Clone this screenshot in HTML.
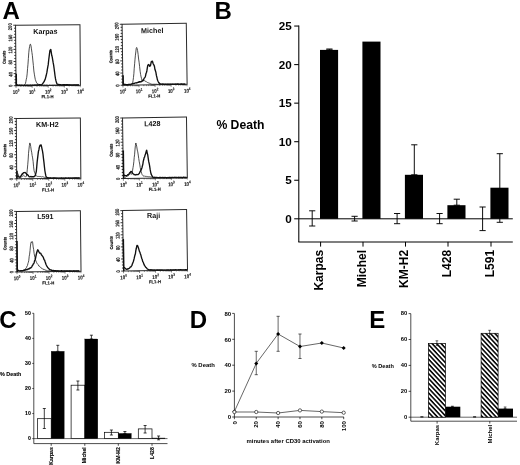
<!DOCTYPE html>
<html><head><meta charset="utf-8"><style>html,body{margin:0;padding:0;background:#fff}svg{display:block;will-change:transform}</style></head><body>
<svg width="520" height="465" viewBox="0 0 520 465" font-family="Liberation Sans, sans-serif">
<rect width="520" height="465" fill="#fff"/>
<text x="2.6" y="18.8" font-size="24" font-weight="bold" fill="#000">A</text>
<text x="214.4" y="19" font-size="24" font-weight="bold" fill="#000">B</text>
<text x="-0.8" y="327.9" font-size="24" font-weight="bold" fill="#000">C</text>
<text x="189.7" y="327.9" font-size="24" font-weight="bold" fill="#000">D</text>
<text x="369.3" y="327.9" font-size="24" font-weight="bold" fill="#000">E</text>
<g transform="rotate(-0.45 48.00 55.20)">
<rect x="15.8" y="24.95" width="64.40" height="60.50" fill="#fff" stroke="#2a2a2a" stroke-width="1.0"/>
<line x1="13.5" y1="85.45" x2="15.8" y2="85.45" stroke="#222" stroke-width="0.9"/>
<line x1="14.3" y1="82.42" x2="15.8" y2="82.42" stroke="#222" stroke-width="0.9"/>
<line x1="14.3" y1="79.40" x2="15.8" y2="79.40" stroke="#222" stroke-width="0.9"/>
<line x1="14.3" y1="76.38" x2="15.8" y2="76.38" stroke="#222" stroke-width="0.9"/>
<line x1="13.5" y1="73.35" x2="15.8" y2="73.35" stroke="#222" stroke-width="0.9"/>
<line x1="14.3" y1="70.33" x2="15.8" y2="70.33" stroke="#222" stroke-width="0.9"/>
<line x1="14.3" y1="67.30" x2="15.8" y2="67.30" stroke="#222" stroke-width="0.9"/>
<line x1="14.3" y1="64.28" x2="15.8" y2="64.28" stroke="#222" stroke-width="0.9"/>
<line x1="13.5" y1="61.25" x2="15.8" y2="61.25" stroke="#222" stroke-width="0.9"/>
<line x1="14.3" y1="58.23" x2="15.8" y2="58.23" stroke="#222" stroke-width="0.9"/>
<line x1="14.3" y1="55.20" x2="15.8" y2="55.20" stroke="#222" stroke-width="0.9"/>
<line x1="14.3" y1="52.18" x2="15.8" y2="52.18" stroke="#222" stroke-width="0.9"/>
<line x1="13.5" y1="49.15" x2="15.8" y2="49.15" stroke="#222" stroke-width="0.9"/>
<line x1="14.3" y1="46.12" x2="15.8" y2="46.12" stroke="#222" stroke-width="0.9"/>
<line x1="14.3" y1="43.10" x2="15.8" y2="43.10" stroke="#222" stroke-width="0.9"/>
<line x1="14.3" y1="40.08" x2="15.8" y2="40.08" stroke="#222" stroke-width="0.9"/>
<line x1="13.5" y1="37.05" x2="15.8" y2="37.05" stroke="#222" stroke-width="0.9"/>
<line x1="14.3" y1="34.03" x2="15.8" y2="34.03" stroke="#222" stroke-width="0.9"/>
<line x1="14.3" y1="31.00" x2="15.8" y2="31.00" stroke="#222" stroke-width="0.9"/>
<line x1="14.3" y1="27.98" x2="15.8" y2="27.98" stroke="#222" stroke-width="0.9"/>
<line x1="13.5" y1="24.95" x2="15.8" y2="24.95" stroke="#222" stroke-width="0.9"/>
<line x1="15.80" y1="85.45" x2="15.80" y2="87.65" stroke="#222" stroke-width="0.55"/>
<line x1="20.65" y1="85.45" x2="20.65" y2="86.65" stroke="#222" stroke-width="0.55"/>
<line x1="23.48" y1="85.45" x2="23.48" y2="86.65" stroke="#222" stroke-width="0.55"/>
<line x1="25.49" y1="85.45" x2="25.49" y2="86.65" stroke="#222" stroke-width="0.55"/>
<line x1="27.05" y1="85.45" x2="27.05" y2="86.65" stroke="#222" stroke-width="0.55"/>
<line x1="28.33" y1="85.45" x2="28.33" y2="86.65" stroke="#222" stroke-width="0.55"/>
<line x1="29.41" y1="85.45" x2="29.41" y2="86.65" stroke="#222" stroke-width="0.55"/>
<line x1="30.34" y1="85.45" x2="30.34" y2="86.65" stroke="#222" stroke-width="0.55"/>
<line x1="31.16" y1="85.45" x2="31.16" y2="86.65" stroke="#222" stroke-width="0.55"/>
<line x1="31.90" y1="85.45" x2="31.90" y2="87.65" stroke="#222" stroke-width="0.55"/>
<line x1="36.75" y1="85.45" x2="36.75" y2="86.65" stroke="#222" stroke-width="0.55"/>
<line x1="39.58" y1="85.45" x2="39.58" y2="86.65" stroke="#222" stroke-width="0.55"/>
<line x1="41.59" y1="85.45" x2="41.59" y2="86.65" stroke="#222" stroke-width="0.55"/>
<line x1="43.15" y1="85.45" x2="43.15" y2="86.65" stroke="#222" stroke-width="0.55"/>
<line x1="44.43" y1="85.45" x2="44.43" y2="86.65" stroke="#222" stroke-width="0.55"/>
<line x1="45.51" y1="85.45" x2="45.51" y2="86.65" stroke="#222" stroke-width="0.55"/>
<line x1="46.44" y1="85.45" x2="46.44" y2="86.65" stroke="#222" stroke-width="0.55"/>
<line x1="47.26" y1="85.45" x2="47.26" y2="86.65" stroke="#222" stroke-width="0.55"/>
<line x1="48.00" y1="85.45" x2="48.00" y2="87.65" stroke="#222" stroke-width="0.55"/>
<line x1="52.85" y1="85.45" x2="52.85" y2="86.65" stroke="#222" stroke-width="0.55"/>
<line x1="55.68" y1="85.45" x2="55.68" y2="86.65" stroke="#222" stroke-width="0.55"/>
<line x1="57.69" y1="85.45" x2="57.69" y2="86.65" stroke="#222" stroke-width="0.55"/>
<line x1="59.25" y1="85.45" x2="59.25" y2="86.65" stroke="#222" stroke-width="0.55"/>
<line x1="60.53" y1="85.45" x2="60.53" y2="86.65" stroke="#222" stroke-width="0.55"/>
<line x1="61.61" y1="85.45" x2="61.61" y2="86.65" stroke="#222" stroke-width="0.55"/>
<line x1="62.54" y1="85.45" x2="62.54" y2="86.65" stroke="#222" stroke-width="0.55"/>
<line x1="63.36" y1="85.45" x2="63.36" y2="86.65" stroke="#222" stroke-width="0.55"/>
<line x1="64.10" y1="85.45" x2="64.10" y2="87.65" stroke="#222" stroke-width="0.55"/>
<line x1="68.95" y1="85.45" x2="68.95" y2="86.65" stroke="#222" stroke-width="0.55"/>
<line x1="71.78" y1="85.45" x2="71.78" y2="86.65" stroke="#222" stroke-width="0.55"/>
<line x1="73.79" y1="85.45" x2="73.79" y2="86.65" stroke="#222" stroke-width="0.55"/>
<line x1="75.35" y1="85.45" x2="75.35" y2="86.65" stroke="#222" stroke-width="0.55"/>
<line x1="76.63" y1="85.45" x2="76.63" y2="86.65" stroke="#222" stroke-width="0.55"/>
<line x1="77.71" y1="85.45" x2="77.71" y2="86.65" stroke="#222" stroke-width="0.55"/>
<line x1="78.64" y1="85.45" x2="78.64" y2="86.65" stroke="#222" stroke-width="0.55"/>
<line x1="79.46" y1="85.45" x2="79.46" y2="86.65" stroke="#222" stroke-width="0.55"/>
<line x1="80.2" y1="85.45" x2="80.2" y2="87.45" stroke="#222" stroke-width="0.4"/>
<text transform="translate(12.30,85.65) rotate(-90) scale(0.78,1)" font-size="5.3" font-weight="bold" text-anchor="middle" fill="#111" stroke="#111" stroke-width="0.1">0</text>
<text transform="translate(12.30,74.05) rotate(-90) scale(0.78,1)" font-size="5.3" font-weight="bold" text-anchor="middle" fill="#111" stroke="#111" stroke-width="0.1">40</text>
<text transform="translate(12.30,61.95) rotate(-90) scale(0.78,1)" font-size="5.3" font-weight="bold" text-anchor="middle" fill="#111" stroke="#111" stroke-width="0.1">80</text>
<text transform="translate(12.30,49.85) rotate(-90) scale(0.78,1)" font-size="5.3" font-weight="bold" text-anchor="middle" fill="#111" stroke="#111" stroke-width="0.1">120</text>
<text transform="translate(12.30,37.75) rotate(-90) scale(0.78,1)" font-size="5.3" font-weight="bold" text-anchor="middle" fill="#111" stroke="#111" stroke-width="0.1">160</text>
<text transform="translate(12.30,26.45) rotate(-90) scale(0.78,1)" font-size="5.3" font-weight="bold" text-anchor="middle" fill="#111" stroke="#111" stroke-width="0.1">200</text>
<text transform="translate(5.60,57.00) rotate(-90) scale(0.9,1)" font-size="4.3" font-weight="bold" text-anchor="middle" fill="#111" stroke="#111" stroke-width="0.2">Counts</text>
<text transform="translate(15.80,93.75) scale(0.8,1)" font-size="5.5" font-weight="bold" text-anchor="middle" fill="#111" stroke="#111" stroke-width="0.1">10<tspan dy="-2.6" font-size="3.8">0</tspan></text>
<text transform="translate(31.90,93.75) scale(0.8,1)" font-size="5.5" font-weight="bold" text-anchor="middle" fill="#111" stroke="#111" stroke-width="0.1">10<tspan dy="-2.6" font-size="3.8">1</tspan></text>
<text transform="translate(48.00,93.75) scale(0.8,1)" font-size="5.5" font-weight="bold" text-anchor="middle" fill="#111" stroke="#111" stroke-width="0.1">10<tspan dy="-2.6" font-size="3.8">2</tspan></text>
<text transform="translate(64.10,93.75) scale(0.8,1)" font-size="5.5" font-weight="bold" text-anchor="middle" fill="#111" stroke="#111" stroke-width="0.1">10<tspan dy="-2.6" font-size="3.8">3</tspan></text>
<text transform="translate(80.20,93.75) scale(0.8,1)" font-size="5.5" font-weight="bold" text-anchor="middle" fill="#111" stroke="#111" stroke-width="0.1">10<tspan dy="-2.6" font-size="3.8">4</tspan></text>
<text transform="translate(47.20,98.25) scale(0.95,1)" font-size="4.5" font-weight="bold" text-anchor="middle" fill="#111" stroke="#111" stroke-width="0.12">FL1-H</text>
<text x="45.60" y="33.90" font-size="7.2" font-weight="bold" text-anchor="middle" fill="#111">Karpas</text>
<path d="M16.20 84.40 L16.65 84.36 L17.10 84.67 L17.55 85.06 L18.00 85.05 L18.45 85.06 L18.90 84.99 L19.35 84.93 L19.80 85.20 L20.25 85.23 L20.70 84.92 L21.15 85.07 L21.60 84.94 L22.05 85.24 L22.50 85.04 L22.95 84.87 L23.40 84.96 L23.85 84.52 L24.30 84.36 L24.75 84.41 L25.20 83.42 L25.65 81.50 L26.10 79.07 L26.55 77.20 L27.00 73.72 L27.45 68.50 L27.90 64.08 L28.35 58.35 L28.80 52.67 L29.25 48.73 L29.70 46.22 L30.15 44.21 L30.60 44.11 L31.05 45.68 L31.50 48.71 L31.95 52.33 L32.40 55.61 L32.85 60.83 L33.30 65.34 L33.75 70.86 L34.20 74.05 L34.65 76.84 L35.10 79.37 L35.55 80.69 L36.00 81.77 L36.45 82.73 L36.90 83.19 L37.35 83.90 L37.80 84.01 L38.25 84.23 L38.70 84.51 L39.15 84.48 L39.60 84.44 L40.05 84.53 L40.50 84.73 L40.95 84.74 L41.40 85.00 L41.85 84.94 L42.30 84.74 L42.75 84.90 L43.20 85.01 L43.65 84.88 L44.10 84.83 L44.55 84.86 L45.00 84.99 L45.45 84.97 L45.90 84.96 L46.35 84.86 L46.80 84.98 L47.25 85.03 L47.70 85.01 L48.15 85.19 L48.60 85.20 L49.05 84.95 L49.50 84.85 L49.95 85.01 L50.40 85.09 L50.85 85.18 L51.30 85.06 L51.75 84.89 L52.20 84.97 L52.65 85.07 L53.10 84.95 L53.55 85.19 L54.00 85.09 L54.45 84.93 L54.90 85.07 L55.35 85.12 L55.80 85.20 L56.25 85.10 L56.70 84.95 L57.15 85.31 L57.60 85.02 L58.05 85.01 L58.50 84.99 L58.95 85.05 L59.40 85.03 L59.85 85.14 L60.30 85.13 L60.75 85.18 L61.20 85.32 L61.65 85.02 L62.10 85.14 L62.55 85.28 L63.00 85.17 L63.45 85.18 L63.90 85.23 L64.35 85.24 L64.80 85.17 L65.25 85.14 L65.70 85.15 L66.15 85.21 L66.60 85.37 L67.05 85.30 L67.50 85.32 L67.95 85.18 L68.40 85.08 L68.85 85.10 L69.30 85.11 L69.75 85.10 L70.20 85.31 L70.65 85.10 L71.10 85.16 L71.55 85.38 L72.00 85.41 L72.45 85.41 L72.90 85.14 L73.35 85.33 L73.80 85.38 L74.25 85.19 L74.70 85.30 L75.15 85.40 L75.60 85.37 L76.05 85.23 L76.50 85.37 L76.95 85.33 L77.40 85.17 L77.85 85.26 L78.30 85.31 L78.75 85.26" fill="none" stroke="#222" stroke-width="0.8" stroke-linejoin="round"/>
<path d="M16.20 84.36 L16.65 84.29 L17.10 84.91 L17.55 84.88 L18.00 85.20 L18.45 85.14 L18.90 84.85 L19.35 85.16 L19.80 84.99 L20.25 85.06 L20.70 85.06 L21.15 85.05 L21.60 85.16 L22.05 84.92 L22.50 85.20 L22.95 85.15 L23.40 85.23 L23.85 85.14 L24.30 85.08 L24.75 84.89 L25.20 85.09 L25.65 85.19 L26.10 85.14 L26.55 84.86 L27.00 85.21 L27.45 85.00 L27.90 85.09 L28.35 84.98 L28.80 85.11 L29.25 84.97 L29.70 85.05 L30.15 84.99 L30.60 84.89 L31.05 85.01 L31.50 85.18 L31.95 85.20 L32.40 84.86 L32.85 85.03 L33.30 85.14 L33.75 84.84 L34.20 84.97 L34.65 84.90 L35.10 84.83 L35.55 85.05 L36.00 85.01 L36.45 84.78 L36.90 85.06 L37.35 84.79 L37.80 85.03 L38.25 84.77 L38.70 84.73 L39.15 84.60 L39.60 84.61 L40.05 84.72 L40.50 84.81 L40.95 84.79 L41.40 84.50 L41.85 84.19 L42.30 83.96 L42.75 83.01 L43.20 82.66 L43.65 81.80 L44.10 81.24 L44.55 80.21 L45.00 79.28 L45.45 77.57 L45.90 76.02 L46.35 74.04 L46.80 72.20 L47.25 69.46 L47.70 66.93 L48.15 64.65 L48.60 60.49 L49.05 57.18 L49.50 53.73 L49.95 50.69 L50.40 49.98 L50.85 49.43 L51.30 52.33 L51.75 55.51 L52.20 56.88 L52.65 59.92 L53.10 62.76 L53.55 65.20 L54.00 68.55 L54.45 72.18 L54.90 76.07 L55.35 78.97 L55.80 81.00 L56.25 82.67 L56.70 83.75 L57.15 84.26 L57.60 84.46 L58.05 84.46 L58.50 84.67 L58.95 84.59 L59.40 84.79 L59.85 84.75 L60.30 84.66 L60.75 85.05 L61.20 85.08 L61.65 85.04 L62.10 84.96 L62.55 84.90 L63.00 84.85 L63.45 85.02 L63.90 84.79 L64.35 85.18 L64.80 84.86 L65.25 85.12 L65.70 84.87 L66.15 85.21 L66.60 84.86 L67.05 84.94 L67.50 84.86 L67.95 85.03 L68.40 85.19 L68.85 84.90 L69.30 85.10 L69.75 85.25 L70.20 85.06 L70.65 85.10 L71.10 85.12 L71.55 85.24 L72.00 85.26 L72.45 85.09 L72.90 85.14 L73.35 85.27 L73.80 85.15 L74.25 85.05 L74.70 85.05 L75.15 85.15 L75.60 85.18 L76.05 85.19 L76.50 85.25 L76.95 85.26 L77.40 85.17 L77.85 85.29 L78.30 85.06 L78.75 85.07" fill="none" stroke="#111" stroke-width="1.35" stroke-linejoin="round"/>
<line x1="16.1" y1="73.45" x2="16.1" y2="85.45" stroke="#111" stroke-width="1.5"/>
</g>
<g transform="rotate(-0.8 154.60 54.30)">
<rect x="122.5" y="23.8" width="64.20" height="61.00" fill="#fff" stroke="#2a2a2a" stroke-width="1.0"/>
<line x1="120.2" y1="84.80" x2="122.5" y2="84.80" stroke="#222" stroke-width="0.9"/>
<line x1="121.0" y1="81.75" x2="122.5" y2="81.75" stroke="#222" stroke-width="0.9"/>
<line x1="121.0" y1="78.70" x2="122.5" y2="78.70" stroke="#222" stroke-width="0.9"/>
<line x1="121.0" y1="75.65" x2="122.5" y2="75.65" stroke="#222" stroke-width="0.9"/>
<line x1="120.2" y1="72.60" x2="122.5" y2="72.60" stroke="#222" stroke-width="0.9"/>
<line x1="121.0" y1="69.55" x2="122.5" y2="69.55" stroke="#222" stroke-width="0.9"/>
<line x1="121.0" y1="66.50" x2="122.5" y2="66.50" stroke="#222" stroke-width="0.9"/>
<line x1="121.0" y1="63.45" x2="122.5" y2="63.45" stroke="#222" stroke-width="0.9"/>
<line x1="120.2" y1="60.40" x2="122.5" y2="60.40" stroke="#222" stroke-width="0.9"/>
<line x1="121.0" y1="57.35" x2="122.5" y2="57.35" stroke="#222" stroke-width="0.9"/>
<line x1="121.0" y1="54.30" x2="122.5" y2="54.30" stroke="#222" stroke-width="0.9"/>
<line x1="121.0" y1="51.25" x2="122.5" y2="51.25" stroke="#222" stroke-width="0.9"/>
<line x1="120.2" y1="48.20" x2="122.5" y2="48.20" stroke="#222" stroke-width="0.9"/>
<line x1="121.0" y1="45.15" x2="122.5" y2="45.15" stroke="#222" stroke-width="0.9"/>
<line x1="121.0" y1="42.10" x2="122.5" y2="42.10" stroke="#222" stroke-width="0.9"/>
<line x1="121.0" y1="39.05" x2="122.5" y2="39.05" stroke="#222" stroke-width="0.9"/>
<line x1="120.2" y1="36.00" x2="122.5" y2="36.00" stroke="#222" stroke-width="0.9"/>
<line x1="121.0" y1="32.95" x2="122.5" y2="32.95" stroke="#222" stroke-width="0.9"/>
<line x1="121.0" y1="29.90" x2="122.5" y2="29.90" stroke="#222" stroke-width="0.9"/>
<line x1="121.0" y1="26.85" x2="122.5" y2="26.85" stroke="#222" stroke-width="0.9"/>
<line x1="120.2" y1="23.80" x2="122.5" y2="23.80" stroke="#222" stroke-width="0.9"/>
<line x1="122.50" y1="84.8" x2="122.50" y2="87.0" stroke="#222" stroke-width="0.55"/>
<line x1="127.33" y1="84.8" x2="127.33" y2="86.0" stroke="#222" stroke-width="0.55"/>
<line x1="130.16" y1="84.8" x2="130.16" y2="86.0" stroke="#222" stroke-width="0.55"/>
<line x1="132.16" y1="84.8" x2="132.16" y2="86.0" stroke="#222" stroke-width="0.55"/>
<line x1="133.72" y1="84.8" x2="133.72" y2="86.0" stroke="#222" stroke-width="0.55"/>
<line x1="134.99" y1="84.8" x2="134.99" y2="86.0" stroke="#222" stroke-width="0.55"/>
<line x1="136.06" y1="84.8" x2="136.06" y2="86.0" stroke="#222" stroke-width="0.55"/>
<line x1="136.99" y1="84.8" x2="136.99" y2="86.0" stroke="#222" stroke-width="0.55"/>
<line x1="137.82" y1="84.8" x2="137.82" y2="86.0" stroke="#222" stroke-width="0.55"/>
<line x1="138.55" y1="84.8" x2="138.55" y2="87.0" stroke="#222" stroke-width="0.55"/>
<line x1="143.38" y1="84.8" x2="143.38" y2="86.0" stroke="#222" stroke-width="0.55"/>
<line x1="146.21" y1="84.8" x2="146.21" y2="86.0" stroke="#222" stroke-width="0.55"/>
<line x1="148.21" y1="84.8" x2="148.21" y2="86.0" stroke="#222" stroke-width="0.55"/>
<line x1="149.77" y1="84.8" x2="149.77" y2="86.0" stroke="#222" stroke-width="0.55"/>
<line x1="151.04" y1="84.8" x2="151.04" y2="86.0" stroke="#222" stroke-width="0.55"/>
<line x1="152.11" y1="84.8" x2="152.11" y2="86.0" stroke="#222" stroke-width="0.55"/>
<line x1="153.04" y1="84.8" x2="153.04" y2="86.0" stroke="#222" stroke-width="0.55"/>
<line x1="153.87" y1="84.8" x2="153.87" y2="86.0" stroke="#222" stroke-width="0.55"/>
<line x1="154.60" y1="84.8" x2="154.60" y2="87.0" stroke="#222" stroke-width="0.55"/>
<line x1="159.43" y1="84.8" x2="159.43" y2="86.0" stroke="#222" stroke-width="0.55"/>
<line x1="162.26" y1="84.8" x2="162.26" y2="86.0" stroke="#222" stroke-width="0.55"/>
<line x1="164.26" y1="84.8" x2="164.26" y2="86.0" stroke="#222" stroke-width="0.55"/>
<line x1="165.82" y1="84.8" x2="165.82" y2="86.0" stroke="#222" stroke-width="0.55"/>
<line x1="167.09" y1="84.8" x2="167.09" y2="86.0" stroke="#222" stroke-width="0.55"/>
<line x1="168.16" y1="84.8" x2="168.16" y2="86.0" stroke="#222" stroke-width="0.55"/>
<line x1="169.09" y1="84.8" x2="169.09" y2="86.0" stroke="#222" stroke-width="0.55"/>
<line x1="169.92" y1="84.8" x2="169.92" y2="86.0" stroke="#222" stroke-width="0.55"/>
<line x1="170.65" y1="84.8" x2="170.65" y2="87.0" stroke="#222" stroke-width="0.55"/>
<line x1="175.48" y1="84.8" x2="175.48" y2="86.0" stroke="#222" stroke-width="0.55"/>
<line x1="178.31" y1="84.8" x2="178.31" y2="86.0" stroke="#222" stroke-width="0.55"/>
<line x1="180.31" y1="84.8" x2="180.31" y2="86.0" stroke="#222" stroke-width="0.55"/>
<line x1="181.87" y1="84.8" x2="181.87" y2="86.0" stroke="#222" stroke-width="0.55"/>
<line x1="183.14" y1="84.8" x2="183.14" y2="86.0" stroke="#222" stroke-width="0.55"/>
<line x1="184.21" y1="84.8" x2="184.21" y2="86.0" stroke="#222" stroke-width="0.55"/>
<line x1="185.14" y1="84.8" x2="185.14" y2="86.0" stroke="#222" stroke-width="0.55"/>
<line x1="185.97" y1="84.8" x2="185.97" y2="86.0" stroke="#222" stroke-width="0.55"/>
<line x1="186.7" y1="84.8" x2="186.7" y2="86.8" stroke="#222" stroke-width="0.4"/>
<text transform="translate(119.00,85.00) rotate(-90) scale(0.78,1)" font-size="5.3" font-weight="bold" text-anchor="middle" fill="#111" stroke="#111" stroke-width="0.1">0</text>
<text transform="translate(119.00,73.30) rotate(-90) scale(0.78,1)" font-size="5.3" font-weight="bold" text-anchor="middle" fill="#111" stroke="#111" stroke-width="0.1">40</text>
<text transform="translate(119.00,61.10) rotate(-90) scale(0.78,1)" font-size="5.3" font-weight="bold" text-anchor="middle" fill="#111" stroke="#111" stroke-width="0.1">80</text>
<text transform="translate(119.00,48.90) rotate(-90) scale(0.78,1)" font-size="5.3" font-weight="bold" text-anchor="middle" fill="#111" stroke="#111" stroke-width="0.1">120</text>
<text transform="translate(119.00,36.70) rotate(-90) scale(0.78,1)" font-size="5.3" font-weight="bold" text-anchor="middle" fill="#111" stroke="#111" stroke-width="0.1">160</text>
<text transform="translate(119.00,25.30) rotate(-90) scale(0.78,1)" font-size="5.3" font-weight="bold" text-anchor="middle" fill="#111" stroke="#111" stroke-width="0.1">200</text>
<text transform="translate(112.30,56.10) rotate(-90) scale(0.9,1)" font-size="4.3" font-weight="bold" text-anchor="middle" fill="#111" stroke="#111" stroke-width="0.2">Counts</text>
<text transform="translate(122.50,93.10) scale(0.8,1)" font-size="5.5" font-weight="bold" text-anchor="middle" fill="#111" stroke="#111" stroke-width="0.1">10<tspan dy="-2.6" font-size="3.8">0</tspan></text>
<text transform="translate(138.55,93.10) scale(0.8,1)" font-size="5.5" font-weight="bold" text-anchor="middle" fill="#111" stroke="#111" stroke-width="0.1">10<tspan dy="-2.6" font-size="3.8">1</tspan></text>
<text transform="translate(154.60,93.10) scale(0.8,1)" font-size="5.5" font-weight="bold" text-anchor="middle" fill="#111" stroke="#111" stroke-width="0.1">10<tspan dy="-2.6" font-size="3.8">2</tspan></text>
<text transform="translate(170.65,93.10) scale(0.8,1)" font-size="5.5" font-weight="bold" text-anchor="middle" fill="#111" stroke="#111" stroke-width="0.1">10<tspan dy="-2.6" font-size="3.8">3</tspan></text>
<text transform="translate(186.70,93.10) scale(0.8,1)" font-size="5.5" font-weight="bold" text-anchor="middle" fill="#111" stroke="#111" stroke-width="0.1">10<tspan dy="-2.6" font-size="3.8">4</tspan></text>
<text transform="translate(153.80,97.60) scale(0.95,1)" font-size="4.5" font-weight="bold" text-anchor="middle" fill="#111" stroke="#111" stroke-width="0.12">FL1-H</text>
<text x="152.50" y="33.00" font-size="7.2" font-weight="bold" text-anchor="middle" fill="#111">Michel</text>
<path d="M122.80 83.59 L123.25 83.69 L123.70 84.16 L124.15 84.21 L124.60 83.97 L125.05 84.06 L125.50 84.13 L125.95 84.31 L126.40 84.22 L126.85 84.23 L127.30 84.26 L127.75 84.43 L128.20 84.32 L128.65 84.32 L129.10 84.17 L129.55 84.03 L130.00 83.99 L130.45 84.09 L130.90 84.04 L131.35 84.01 L131.80 83.99 L132.25 82.91 L132.70 80.15 L133.15 77.22 L133.60 73.45 L134.05 67.91 L134.50 63.48 L134.95 58.92 L135.40 54.92 L135.85 51.68 L136.30 48.24 L136.75 47.22 L137.20 48.28 L137.65 50.40 L138.10 54.06 L138.55 58.80 L139.00 61.98 L139.45 66.44 L139.90 71.00 L140.35 74.40 L140.80 76.75 L141.25 78.50 L141.70 80.04 L142.15 79.93 L142.60 80.03 L143.05 80.66 L143.50 80.28 L143.95 80.38 L144.40 80.73 L144.85 80.95 L145.30 81.30 L145.75 81.35 L146.20 81.87 L146.65 81.94 L147.10 82.46 L147.55 82.42 L148.00 82.65 L148.45 83.08 L148.90 83.21 L149.35 83.21 L149.80 83.47 L150.25 83.73 L150.70 83.99 L151.15 84.07 L151.60 84.02 L152.05 84.30 L152.50 84.03 L152.95 84.30 L153.40 84.06 L153.85 84.31 L154.30 84.07 L154.75 84.18 L155.20 84.27 L155.65 84.28 L156.10 84.24 L156.55 84.27 L157.00 84.39 L157.45 84.45 L157.90 84.34 L158.35 84.18 L158.80 84.31 L159.25 84.54 L159.70 84.26 L160.15 84.30 L160.60 84.24 L161.05 84.53 L161.50 84.32 L161.95 84.59 L162.40 84.38 L162.85 84.53 L163.30 84.55 L163.75 84.31 L164.20 84.61 L164.65 84.46 L165.10 84.34 L165.55 84.58 L166.00 84.60 L166.45 84.35 L166.90 84.53 L167.35 84.43 L167.80 84.69 L168.25 84.57 L168.70 84.64 L169.15 84.46 L169.60 84.69 L170.05 84.37 L170.50 84.72 L170.95 84.46 L171.40 84.73 L171.85 84.64 L172.30 84.44 L172.75 84.69 L173.20 84.68 L173.65 84.49 L174.10 84.61 L174.55 84.74 L175.00 84.39 L175.45 84.70 L175.90 84.75 L176.35 84.64 L176.80 84.54 L177.25 84.49 L177.70 84.73 L178.15 84.65 L178.60 84.76 L179.05 84.61 L179.50 84.49 L179.95 84.50 L180.40 84.45 L180.85 84.50 L181.30 84.46 L181.75 84.52 L182.20 84.61 L182.65 84.70 L183.10 84.54 L183.55 84.66 L184.00 84.74 L184.45 84.62 L184.90 84.46" fill="none" stroke="#222" stroke-width="0.8" stroke-linejoin="round"/>
<path d="M122.80 83.60 L123.25 83.79 L123.70 84.04 L124.15 83.86 L124.60 84.33 L125.05 84.21 L125.50 84.11 L125.95 84.46 L126.40 84.27 L126.85 84.23 L127.30 84.43 L127.75 84.26 L128.20 84.09 L128.65 84.14 L129.10 83.98 L129.55 84.16 L130.00 84.06 L130.45 84.06 L130.90 83.82 L131.35 83.56 L131.80 83.60 L132.25 83.40 L132.70 83.46 L133.15 83.16 L133.60 83.33 L134.05 83.11 L134.50 82.78 L134.95 82.63 L135.40 82.66 L135.85 82.73 L136.30 82.53 L136.75 82.47 L137.20 82.33 L137.65 81.93 L138.10 82.17 L138.55 81.66 L139.00 81.53 L139.45 81.91 L139.90 81.59 L140.35 81.39 L140.80 81.55 L141.25 81.12 L141.70 80.59 L142.15 80.89 L142.60 80.17 L143.05 79.99 L143.50 78.95 L143.95 77.86 L144.40 77.62 L144.85 76.86 L145.30 75.49 L145.75 73.34 L146.20 72.35 L146.65 70.62 L147.10 68.05 L147.55 65.44 L148.00 64.67 L148.45 64.42 L148.90 64.69 L149.35 66.21 L149.80 65.95 L150.25 65.85 L150.70 63.76 L151.15 61.63 L151.60 61.74 L152.05 61.04 L152.50 61.70 L152.95 63.46 L153.40 64.58 L153.85 64.93 L154.30 66.55 L154.75 69.58 L155.20 70.74 L155.65 72.36 L156.10 75.43 L156.55 77.26 L157.00 79.60 L157.45 80.80 L157.90 81.82 L158.35 82.63 L158.80 83.12 L159.25 83.90 L159.70 84.08 L160.15 83.95 L160.60 84.10 L161.05 84.18 L161.50 84.23 L161.95 84.02 L162.40 84.20 L162.85 84.44 L163.30 84.15 L163.75 84.35 L164.20 84.33 L164.65 84.43 L165.10 84.35 L165.55 84.40 L166.00 84.50 L166.45 84.30 L166.90 84.51 L167.35 84.25 L167.80 84.55 L168.25 84.27 L168.70 84.26 L169.15 84.39 L169.60 84.31 L170.05 84.49 L170.50 84.31 L170.95 84.43 L171.40 84.51 L171.85 84.24 L172.30 84.46 L172.75 84.47 L173.20 84.29 L173.65 84.48 L174.10 84.37 L174.55 84.57 L175.00 84.32 L175.45 84.54 L175.90 84.62 L176.35 84.28 L176.80 84.59 L177.25 84.30 L177.70 84.28 L178.15 84.43 L178.60 84.66 L179.05 84.64 L179.50 84.59 L179.95 84.52 L180.40 84.44 L180.85 84.31 L181.30 84.54 L181.75 84.62 L182.20 84.47 L182.65 84.63 L183.10 84.65 L183.55 84.47 L184.00 84.42 L184.45 84.66 L184.90 84.51" fill="none" stroke="#111" stroke-width="1.35" stroke-linejoin="round"/>
<line x1="122.8" y1="74.8" x2="122.8" y2="84.8" stroke="#111" stroke-width="1.5"/>
</g>
<g transform="rotate(-0.45 48.55 148.40)">
<rect x="16.5" y="118.2" width="64.10" height="60.40" fill="#fff" stroke="#2a2a2a" stroke-width="1.0"/>
<line x1="14.2" y1="178.60" x2="16.5" y2="178.60" stroke="#222" stroke-width="0.9"/>
<line x1="15.0" y1="175.58" x2="16.5" y2="175.58" stroke="#222" stroke-width="0.9"/>
<line x1="15.0" y1="172.56" x2="16.5" y2="172.56" stroke="#222" stroke-width="0.9"/>
<line x1="15.0" y1="169.54" x2="16.5" y2="169.54" stroke="#222" stroke-width="0.9"/>
<line x1="14.2" y1="166.52" x2="16.5" y2="166.52" stroke="#222" stroke-width="0.9"/>
<line x1="15.0" y1="163.50" x2="16.5" y2="163.50" stroke="#222" stroke-width="0.9"/>
<line x1="15.0" y1="160.48" x2="16.5" y2="160.48" stroke="#222" stroke-width="0.9"/>
<line x1="15.0" y1="157.46" x2="16.5" y2="157.46" stroke="#222" stroke-width="0.9"/>
<line x1="14.2" y1="154.44" x2="16.5" y2="154.44" stroke="#222" stroke-width="0.9"/>
<line x1="15.0" y1="151.42" x2="16.5" y2="151.42" stroke="#222" stroke-width="0.9"/>
<line x1="15.0" y1="148.40" x2="16.5" y2="148.40" stroke="#222" stroke-width="0.9"/>
<line x1="15.0" y1="145.38" x2="16.5" y2="145.38" stroke="#222" stroke-width="0.9"/>
<line x1="14.2" y1="142.36" x2="16.5" y2="142.36" stroke="#222" stroke-width="0.9"/>
<line x1="15.0" y1="139.34" x2="16.5" y2="139.34" stroke="#222" stroke-width="0.9"/>
<line x1="15.0" y1="136.32" x2="16.5" y2="136.32" stroke="#222" stroke-width="0.9"/>
<line x1="15.0" y1="133.30" x2="16.5" y2="133.30" stroke="#222" stroke-width="0.9"/>
<line x1="14.2" y1="130.28" x2="16.5" y2="130.28" stroke="#222" stroke-width="0.9"/>
<line x1="15.0" y1="127.26" x2="16.5" y2="127.26" stroke="#222" stroke-width="0.9"/>
<line x1="15.0" y1="124.24" x2="16.5" y2="124.24" stroke="#222" stroke-width="0.9"/>
<line x1="15.0" y1="121.22" x2="16.5" y2="121.22" stroke="#222" stroke-width="0.9"/>
<line x1="14.2" y1="118.20" x2="16.5" y2="118.20" stroke="#222" stroke-width="0.9"/>
<line x1="16.50" y1="178.6" x2="16.50" y2="180.79999999999998" stroke="#222" stroke-width="0.55"/>
<line x1="21.32" y1="178.6" x2="21.32" y2="179.79999999999998" stroke="#222" stroke-width="0.55"/>
<line x1="24.15" y1="178.6" x2="24.15" y2="179.79999999999998" stroke="#222" stroke-width="0.55"/>
<line x1="26.15" y1="178.6" x2="26.15" y2="179.79999999999998" stroke="#222" stroke-width="0.55"/>
<line x1="27.70" y1="178.6" x2="27.70" y2="179.79999999999998" stroke="#222" stroke-width="0.55"/>
<line x1="28.97" y1="178.6" x2="28.97" y2="179.79999999999998" stroke="#222" stroke-width="0.55"/>
<line x1="30.04" y1="178.6" x2="30.04" y2="179.79999999999998" stroke="#222" stroke-width="0.55"/>
<line x1="30.97" y1="178.6" x2="30.97" y2="179.79999999999998" stroke="#222" stroke-width="0.55"/>
<line x1="31.79" y1="178.6" x2="31.79" y2="179.79999999999998" stroke="#222" stroke-width="0.55"/>
<line x1="32.52" y1="178.6" x2="32.52" y2="180.79999999999998" stroke="#222" stroke-width="0.55"/>
<line x1="37.35" y1="178.6" x2="37.35" y2="179.79999999999998" stroke="#222" stroke-width="0.55"/>
<line x1="40.17" y1="178.6" x2="40.17" y2="179.79999999999998" stroke="#222" stroke-width="0.55"/>
<line x1="42.17" y1="178.6" x2="42.17" y2="179.79999999999998" stroke="#222" stroke-width="0.55"/>
<line x1="43.73" y1="178.6" x2="43.73" y2="179.79999999999998" stroke="#222" stroke-width="0.55"/>
<line x1="44.99" y1="178.6" x2="44.99" y2="179.79999999999998" stroke="#222" stroke-width="0.55"/>
<line x1="46.07" y1="178.6" x2="46.07" y2="179.79999999999998" stroke="#222" stroke-width="0.55"/>
<line x1="47.00" y1="178.6" x2="47.00" y2="179.79999999999998" stroke="#222" stroke-width="0.55"/>
<line x1="47.82" y1="178.6" x2="47.82" y2="179.79999999999998" stroke="#222" stroke-width="0.55"/>
<line x1="48.55" y1="178.6" x2="48.55" y2="180.79999999999998" stroke="#222" stroke-width="0.55"/>
<line x1="53.37" y1="178.6" x2="53.37" y2="179.79999999999998" stroke="#222" stroke-width="0.55"/>
<line x1="56.20" y1="178.6" x2="56.20" y2="179.79999999999998" stroke="#222" stroke-width="0.55"/>
<line x1="58.20" y1="178.6" x2="58.20" y2="179.79999999999998" stroke="#222" stroke-width="0.55"/>
<line x1="59.75" y1="178.6" x2="59.75" y2="179.79999999999998" stroke="#222" stroke-width="0.55"/>
<line x1="61.02" y1="178.6" x2="61.02" y2="179.79999999999998" stroke="#222" stroke-width="0.55"/>
<line x1="62.09" y1="178.6" x2="62.09" y2="179.79999999999998" stroke="#222" stroke-width="0.55"/>
<line x1="63.02" y1="178.6" x2="63.02" y2="179.79999999999998" stroke="#222" stroke-width="0.55"/>
<line x1="63.84" y1="178.6" x2="63.84" y2="179.79999999999998" stroke="#222" stroke-width="0.55"/>
<line x1="64.57" y1="178.6" x2="64.57" y2="180.79999999999998" stroke="#222" stroke-width="0.55"/>
<line x1="69.40" y1="178.6" x2="69.40" y2="179.79999999999998" stroke="#222" stroke-width="0.55"/>
<line x1="72.22" y1="178.6" x2="72.22" y2="179.79999999999998" stroke="#222" stroke-width="0.55"/>
<line x1="74.22" y1="178.6" x2="74.22" y2="179.79999999999998" stroke="#222" stroke-width="0.55"/>
<line x1="75.78" y1="178.6" x2="75.78" y2="179.79999999999998" stroke="#222" stroke-width="0.55"/>
<line x1="77.04" y1="178.6" x2="77.04" y2="179.79999999999998" stroke="#222" stroke-width="0.55"/>
<line x1="78.12" y1="178.6" x2="78.12" y2="179.79999999999998" stroke="#222" stroke-width="0.55"/>
<line x1="79.05" y1="178.6" x2="79.05" y2="179.79999999999998" stroke="#222" stroke-width="0.55"/>
<line x1="79.87" y1="178.6" x2="79.87" y2="179.79999999999998" stroke="#222" stroke-width="0.55"/>
<line x1="80.6" y1="178.6" x2="80.6" y2="180.6" stroke="#222" stroke-width="0.4"/>
<text transform="translate(13.00,178.80) rotate(-90) scale(0.78,1)" font-size="5.3" font-weight="bold" text-anchor="middle" fill="#111" stroke="#111" stroke-width="0.1">0</text>
<text transform="translate(13.00,167.22) rotate(-90) scale(0.78,1)" font-size="5.3" font-weight="bold" text-anchor="middle" fill="#111" stroke="#111" stroke-width="0.1">40</text>
<text transform="translate(13.00,155.14) rotate(-90) scale(0.78,1)" font-size="5.3" font-weight="bold" text-anchor="middle" fill="#111" stroke="#111" stroke-width="0.1">80</text>
<text transform="translate(13.00,143.06) rotate(-90) scale(0.78,1)" font-size="5.3" font-weight="bold" text-anchor="middle" fill="#111" stroke="#111" stroke-width="0.1">120</text>
<text transform="translate(13.00,130.98) rotate(-90) scale(0.78,1)" font-size="5.3" font-weight="bold" text-anchor="middle" fill="#111" stroke="#111" stroke-width="0.1">160</text>
<text transform="translate(13.00,119.70) rotate(-90) scale(0.78,1)" font-size="5.3" font-weight="bold" text-anchor="middle" fill="#111" stroke="#111" stroke-width="0.1">200</text>
<text transform="translate(6.30,150.20) rotate(-90) scale(0.9,1)" font-size="4.3" font-weight="bold" text-anchor="middle" fill="#111" stroke="#111" stroke-width="0.2">Counts</text>
<text transform="translate(16.50,186.90) scale(0.8,1)" font-size="5.5" font-weight="bold" text-anchor="middle" fill="#111" stroke="#111" stroke-width="0.1">10<tspan dy="-2.6" font-size="3.8">0</tspan></text>
<text transform="translate(32.52,186.90) scale(0.8,1)" font-size="5.5" font-weight="bold" text-anchor="middle" fill="#111" stroke="#111" stroke-width="0.1">10<tspan dy="-2.6" font-size="3.8">1</tspan></text>
<text transform="translate(48.55,186.90) scale(0.8,1)" font-size="5.5" font-weight="bold" text-anchor="middle" fill="#111" stroke="#111" stroke-width="0.1">10<tspan dy="-2.6" font-size="3.8">2</tspan></text>
<text transform="translate(64.57,186.90) scale(0.8,1)" font-size="5.5" font-weight="bold" text-anchor="middle" fill="#111" stroke="#111" stroke-width="0.1">10<tspan dy="-2.6" font-size="3.8">3</tspan></text>
<text transform="translate(80.60,186.90) scale(0.8,1)" font-size="5.5" font-weight="bold" text-anchor="middle" fill="#111" stroke="#111" stroke-width="0.1">10<tspan dy="-2.6" font-size="3.8">4</tspan></text>
<text transform="translate(47.75,191.40) scale(0.95,1)" font-size="4.5" font-weight="bold" text-anchor="middle" fill="#111" stroke="#111" stroke-width="0.12">FL1-H</text>
<text x="47.50" y="127.00" font-size="7.2" font-weight="bold" text-anchor="middle" fill="#111">KM-H2</text>
<path d="M16.80 172.33 L17.25 172.67 L17.70 173.59 L18.15 174.56 L18.60 175.81 L19.05 177.10 L19.50 177.52 L19.95 177.11 L20.40 177.28 L20.85 177.17 L21.30 176.61 L21.75 176.49 L22.20 175.83 L22.65 175.63 L23.10 175.32 L23.55 175.73 L24.00 175.82 L24.45 176.13 L24.90 176.58 L25.35 176.43 L25.80 176.29 L26.25 176.13 L26.70 172.84 L27.15 169.07 L27.60 164.63 L28.05 159.81 L28.50 153.15 L28.95 149.02 L29.40 145.31 L29.85 142.78 L30.30 143.63 L30.75 146.34 L31.20 149.92 L31.65 152.08 L32.10 155.39 L32.55 157.76 L33.00 161.20 L33.45 166.73 L33.90 170.46 L34.35 172.31 L34.80 173.29 L35.25 174.87 L35.70 175.44 L36.15 175.93 L36.60 176.02 L37.05 176.24 L37.50 176.38 L37.95 176.35 L38.40 176.42 L38.85 176.32 L39.30 176.49 L39.75 176.41 L40.20 176.49 L40.65 176.46 L41.10 176.65 L41.55 176.94 L42.00 176.64 L42.45 176.63 L42.90 176.71 L43.35 176.94 L43.80 176.96 L44.25 177.32 L44.70 177.20 L45.15 177.49 L45.60 177.78 L46.05 178.01 L46.50 177.80 L46.95 177.80 L47.40 178.18 L47.85 177.91 L48.30 178.07 L48.75 178.19 L49.20 178.15 L49.65 177.97 L50.10 177.94 L50.55 178.28 L51.00 178.07 L51.45 178.30 L51.90 178.05 L52.35 178.21 L52.80 178.01 L53.25 177.98 L53.70 178.17 L54.15 177.99 L54.60 178.27 L55.05 178.36 L55.50 178.17 L55.95 178.40 L56.40 178.34 L56.85 178.27 L57.30 178.20 L57.75 178.38 L58.20 178.43 L58.65 178.13 L59.10 178.34 L59.55 178.11 L60.00 178.14 L60.45 178.34 L60.90 178.31 L61.35 178.30 L61.80 178.26 L62.25 178.28 L62.70 178.30 L63.15 178.28 L63.60 178.17 L64.05 178.33 L64.50 178.36 L64.95 178.26 L65.40 178.44 L65.85 178.42 L66.30 178.18 L66.75 178.35 L67.20 178.34 L67.65 178.54 L68.10 178.40 L68.55 178.34 L69.00 178.55 L69.45 178.33 L69.90 178.33 L70.35 178.54 L70.80 178.33 L71.25 178.40 L71.70 178.32 L72.15 178.44 L72.60 178.31 L73.05 178.30 L73.50 178.57 L73.95 178.55 L74.40 178.33 L74.85 178.23 L75.30 178.49 L75.75 178.41 L76.20 178.36 L76.65 178.46 L77.10 178.45 L77.55 178.47 L78.00 178.45 L78.45 178.36 L78.90 178.47 L79.35 178.45" fill="none" stroke="#222" stroke-width="0.8" stroke-linejoin="round"/>
<path d="M16.80 175.56 L17.25 175.85 L17.70 176.00 L18.15 176.51 L18.60 176.57 L19.05 176.82 L19.50 176.85 L19.95 176.77 L20.40 176.07 L20.85 175.56 L21.30 174.98 L21.75 173.93 L22.20 173.45 L22.65 173.73 L23.10 172.63 L23.55 172.46 L24.00 172.39 L24.45 172.39 L24.90 172.23 L25.35 172.80 L25.80 173.11 L26.25 173.64 L26.70 174.45 L27.15 174.47 L27.60 174.85 L28.05 175.36 L28.50 175.98 L28.95 176.57 L29.40 176.70 L29.85 176.70 L30.30 176.33 L30.75 176.70 L31.20 176.67 L31.65 176.39 L32.10 176.70 L32.55 176.57 L33.00 176.63 L33.45 176.78 L33.90 176.36 L34.35 176.00 L34.80 175.94 L35.25 174.79 L35.70 173.00 L36.15 171.20 L36.60 166.66 L37.05 161.78 L37.50 158.32 L37.95 154.87 L38.40 151.26 L38.85 149.86 L39.30 147.33 L39.75 146.02 L40.20 145.06 L40.65 145.72 L41.10 144.83 L41.55 146.47 L42.00 148.79 L42.45 150.88 L42.90 153.74 L43.35 158.07 L43.80 161.92 L44.25 166.47 L44.70 170.72 L45.15 173.30 L45.60 175.68 L46.05 176.93 L46.50 177.21 L46.95 177.68 L47.40 177.71 L47.85 177.76 L48.30 177.80 L48.75 177.93 L49.20 178.00 L49.65 177.98 L50.10 178.17 L50.55 177.90 L51.00 178.06 L51.45 178.08 L51.90 178.19 L52.35 178.05 L52.80 178.01 L53.25 178.10 L53.70 177.92 L54.15 178.01 L54.60 178.19 L55.05 178.09 L55.50 177.95 L55.95 178.11 L56.40 178.09 L56.85 178.30 L57.30 178.15 L57.75 178.17 L58.20 178.20 L58.65 178.20 L59.10 178.14 L59.55 178.17 L60.00 178.19 L60.45 178.32 L60.90 178.22 L61.35 178.03 L61.80 178.24 L62.25 178.40 L62.70 178.41 L63.15 178.22 L63.60 178.40 L64.05 178.39 L64.50 178.39 L64.95 178.26 L65.40 178.06 L65.85 178.26 L66.30 178.27 L66.75 178.29 L67.20 178.26 L67.65 178.29 L68.10 178.19 L68.55 178.12 L69.00 178.20 L69.45 178.31 L69.90 178.22 L70.35 178.13 L70.80 178.42 L71.25 178.39 L71.70 178.24 L72.15 178.22 L72.60 178.24 L73.05 178.26 L73.50 178.17 L73.95 178.30 L74.40 178.18 L74.85 178.12 L75.30 178.32 L75.75 178.16 L76.20 178.22 L76.65 178.15 L77.10 178.47 L77.55 178.14 L78.00 178.20 L78.45 178.13 L78.90 178.12 L79.35 178.38" fill="none" stroke="#111" stroke-width="1.35" stroke-linejoin="round"/>
<line x1="16.8" y1="170.6" x2="16.8" y2="178.6" stroke="#111" stroke-width="1.5"/>
</g>
<g transform="rotate(-0.8 154.93 147.82)">
<rect x="122.95" y="117.55" width="63.95" height="60.55" fill="#fff" stroke="#2a2a2a" stroke-width="1.0"/>
<line x1="120.65" y1="178.10" x2="122.95" y2="178.10" stroke="#222" stroke-width="0.9"/>
<line x1="121.45" y1="175.07" x2="122.95" y2="175.07" stroke="#222" stroke-width="0.9"/>
<line x1="121.45" y1="172.04" x2="122.95" y2="172.04" stroke="#222" stroke-width="0.9"/>
<line x1="121.45" y1="169.02" x2="122.95" y2="169.02" stroke="#222" stroke-width="0.9"/>
<line x1="120.65" y1="165.99" x2="122.95" y2="165.99" stroke="#222" stroke-width="0.9"/>
<line x1="121.45" y1="162.96" x2="122.95" y2="162.96" stroke="#222" stroke-width="0.9"/>
<line x1="121.45" y1="159.94" x2="122.95" y2="159.94" stroke="#222" stroke-width="0.9"/>
<line x1="121.45" y1="156.91" x2="122.95" y2="156.91" stroke="#222" stroke-width="0.9"/>
<line x1="120.65" y1="153.88" x2="122.95" y2="153.88" stroke="#222" stroke-width="0.9"/>
<line x1="121.45" y1="150.85" x2="122.95" y2="150.85" stroke="#222" stroke-width="0.9"/>
<line x1="121.45" y1="147.82" x2="122.95" y2="147.82" stroke="#222" stroke-width="0.9"/>
<line x1="121.45" y1="144.80" x2="122.95" y2="144.80" stroke="#222" stroke-width="0.9"/>
<line x1="120.65" y1="141.77" x2="122.95" y2="141.77" stroke="#222" stroke-width="0.9"/>
<line x1="121.45" y1="138.74" x2="122.95" y2="138.74" stroke="#222" stroke-width="0.9"/>
<line x1="121.45" y1="135.72" x2="122.95" y2="135.72" stroke="#222" stroke-width="0.9"/>
<line x1="121.45" y1="132.69" x2="122.95" y2="132.69" stroke="#222" stroke-width="0.9"/>
<line x1="120.65" y1="129.66" x2="122.95" y2="129.66" stroke="#222" stroke-width="0.9"/>
<line x1="121.45" y1="126.63" x2="122.95" y2="126.63" stroke="#222" stroke-width="0.9"/>
<line x1="121.45" y1="123.61" x2="122.95" y2="123.61" stroke="#222" stroke-width="0.9"/>
<line x1="121.45" y1="120.58" x2="122.95" y2="120.58" stroke="#222" stroke-width="0.9"/>
<line x1="120.65" y1="117.55" x2="122.95" y2="117.55" stroke="#222" stroke-width="0.9"/>
<line x1="122.95" y1="178.1" x2="122.95" y2="180.29999999999998" stroke="#222" stroke-width="0.55"/>
<line x1="127.76" y1="178.1" x2="127.76" y2="179.29999999999998" stroke="#222" stroke-width="0.55"/>
<line x1="130.58" y1="178.1" x2="130.58" y2="179.29999999999998" stroke="#222" stroke-width="0.55"/>
<line x1="132.58" y1="178.1" x2="132.58" y2="179.29999999999998" stroke="#222" stroke-width="0.55"/>
<line x1="134.12" y1="178.1" x2="134.12" y2="179.29999999999998" stroke="#222" stroke-width="0.55"/>
<line x1="135.39" y1="178.1" x2="135.39" y2="179.29999999999998" stroke="#222" stroke-width="0.55"/>
<line x1="136.46" y1="178.1" x2="136.46" y2="179.29999999999998" stroke="#222" stroke-width="0.55"/>
<line x1="137.39" y1="178.1" x2="137.39" y2="179.29999999999998" stroke="#222" stroke-width="0.55"/>
<line x1="138.21" y1="178.1" x2="138.21" y2="179.29999999999998" stroke="#222" stroke-width="0.55"/>
<line x1="138.94" y1="178.1" x2="138.94" y2="180.29999999999998" stroke="#222" stroke-width="0.55"/>
<line x1="143.75" y1="178.1" x2="143.75" y2="179.29999999999998" stroke="#222" stroke-width="0.55"/>
<line x1="146.57" y1="178.1" x2="146.57" y2="179.29999999999998" stroke="#222" stroke-width="0.55"/>
<line x1="148.56" y1="178.1" x2="148.56" y2="179.29999999999998" stroke="#222" stroke-width="0.55"/>
<line x1="150.11" y1="178.1" x2="150.11" y2="179.29999999999998" stroke="#222" stroke-width="0.55"/>
<line x1="151.38" y1="178.1" x2="151.38" y2="179.29999999999998" stroke="#222" stroke-width="0.55"/>
<line x1="152.45" y1="178.1" x2="152.45" y2="179.29999999999998" stroke="#222" stroke-width="0.55"/>
<line x1="153.38" y1="178.1" x2="153.38" y2="179.29999999999998" stroke="#222" stroke-width="0.55"/>
<line x1="154.19" y1="178.1" x2="154.19" y2="179.29999999999998" stroke="#222" stroke-width="0.55"/>
<line x1="154.93" y1="178.1" x2="154.93" y2="180.29999999999998" stroke="#222" stroke-width="0.55"/>
<line x1="159.74" y1="178.1" x2="159.74" y2="179.29999999999998" stroke="#222" stroke-width="0.55"/>
<line x1="162.55" y1="178.1" x2="162.55" y2="179.29999999999998" stroke="#222" stroke-width="0.55"/>
<line x1="164.55" y1="178.1" x2="164.55" y2="179.29999999999998" stroke="#222" stroke-width="0.55"/>
<line x1="166.10" y1="178.1" x2="166.10" y2="179.29999999999998" stroke="#222" stroke-width="0.55"/>
<line x1="167.37" y1="178.1" x2="167.37" y2="179.29999999999998" stroke="#222" stroke-width="0.55"/>
<line x1="168.44" y1="178.1" x2="168.44" y2="179.29999999999998" stroke="#222" stroke-width="0.55"/>
<line x1="169.36" y1="178.1" x2="169.36" y2="179.29999999999998" stroke="#222" stroke-width="0.55"/>
<line x1="170.18" y1="178.1" x2="170.18" y2="179.29999999999998" stroke="#222" stroke-width="0.55"/>
<line x1="170.91" y1="178.1" x2="170.91" y2="180.29999999999998" stroke="#222" stroke-width="0.55"/>
<line x1="175.73" y1="178.1" x2="175.73" y2="179.29999999999998" stroke="#222" stroke-width="0.55"/>
<line x1="178.54" y1="178.1" x2="178.54" y2="179.29999999999998" stroke="#222" stroke-width="0.55"/>
<line x1="180.54" y1="178.1" x2="180.54" y2="179.29999999999998" stroke="#222" stroke-width="0.55"/>
<line x1="182.09" y1="178.1" x2="182.09" y2="179.29999999999998" stroke="#222" stroke-width="0.55"/>
<line x1="183.35" y1="178.1" x2="183.35" y2="179.29999999999998" stroke="#222" stroke-width="0.55"/>
<line x1="184.42" y1="178.1" x2="184.42" y2="179.29999999999998" stroke="#222" stroke-width="0.55"/>
<line x1="185.35" y1="178.1" x2="185.35" y2="179.29999999999998" stroke="#222" stroke-width="0.55"/>
<line x1="186.17" y1="178.1" x2="186.17" y2="179.29999999999998" stroke="#222" stroke-width="0.55"/>
<line x1="186.9" y1="178.1" x2="186.9" y2="180.1" stroke="#222" stroke-width="0.4"/>
<text transform="translate(119.45,178.30) rotate(-90) scale(0.78,1)" font-size="5.3" font-weight="bold" text-anchor="middle" fill="#111" stroke="#111" stroke-width="0.1">0</text>
<text transform="translate(119.45,166.69) rotate(-90) scale(0.78,1)" font-size="5.3" font-weight="bold" text-anchor="middle" fill="#111" stroke="#111" stroke-width="0.1">40</text>
<text transform="translate(119.45,154.58) rotate(-90) scale(0.78,1)" font-size="5.3" font-weight="bold" text-anchor="middle" fill="#111" stroke="#111" stroke-width="0.1">80</text>
<text transform="translate(119.45,142.47) rotate(-90) scale(0.78,1)" font-size="5.3" font-weight="bold" text-anchor="middle" fill="#111" stroke="#111" stroke-width="0.1">120</text>
<text transform="translate(119.45,130.36) rotate(-90) scale(0.78,1)" font-size="5.3" font-weight="bold" text-anchor="middle" fill="#111" stroke="#111" stroke-width="0.1">160</text>
<text transform="translate(119.45,119.05) rotate(-90) scale(0.78,1)" font-size="5.3" font-weight="bold" text-anchor="middle" fill="#111" stroke="#111" stroke-width="0.1">200</text>
<text transform="translate(112.75,149.62) rotate(-90) scale(0.9,1)" font-size="4.3" font-weight="bold" text-anchor="middle" fill="#111" stroke="#111" stroke-width="0.2">Counts</text>
<text transform="translate(122.95,186.40) scale(0.8,1)" font-size="5.5" font-weight="bold" text-anchor="middle" fill="#111" stroke="#111" stroke-width="0.1">10<tspan dy="-2.6" font-size="3.8">0</tspan></text>
<text transform="translate(138.94,186.40) scale(0.8,1)" font-size="5.5" font-weight="bold" text-anchor="middle" fill="#111" stroke="#111" stroke-width="0.1">10<tspan dy="-2.6" font-size="3.8">1</tspan></text>
<text transform="translate(154.93,186.40) scale(0.8,1)" font-size="5.5" font-weight="bold" text-anchor="middle" fill="#111" stroke="#111" stroke-width="0.1">10<tspan dy="-2.6" font-size="3.8">2</tspan></text>
<text transform="translate(170.91,186.40) scale(0.8,1)" font-size="5.5" font-weight="bold" text-anchor="middle" fill="#111" stroke="#111" stroke-width="0.1">10<tspan dy="-2.6" font-size="3.8">3</tspan></text>
<text transform="translate(186.90,186.40) scale(0.8,1)" font-size="5.5" font-weight="bold" text-anchor="middle" fill="#111" stroke="#111" stroke-width="0.1">10<tspan dy="-2.6" font-size="3.8">4</tspan></text>
<text transform="translate(154.12,190.90) scale(0.95,1)" font-size="4.5" font-weight="bold" text-anchor="middle" fill="#111" stroke="#111" stroke-width="0.12">FL1-H</text>
<text x="152.70" y="126.10" font-size="7.2" font-weight="bold" text-anchor="middle" fill="#111">L428</text>
<path d="M123.30 176.20 L123.75 176.49 L124.20 176.51 L124.65 176.72 L125.10 176.78 L125.55 176.56 L126.00 176.16 L126.45 176.01 L126.90 175.78 L127.35 175.81 L127.80 175.35 L128.25 175.19 L128.70 174.76 L129.15 174.28 L129.60 173.82 L130.05 173.24 L130.50 173.61 L130.95 173.96 L131.40 173.78 L131.85 172.40 L132.30 169.85 L132.75 167.34 L133.20 164.81 L133.65 161.43 L134.10 157.11 L134.55 153.90 L135.00 148.85 L135.45 145.23 L135.90 142.73 L136.35 144.18 L136.80 146.61 L137.25 149.81 L137.70 151.63 L138.15 154.81 L138.60 158.30 L139.05 161.54 L139.50 163.84 L139.95 167.41 L140.40 169.77 L140.85 171.64 L141.30 173.20 L141.75 174.34 L142.20 175.03 L142.65 175.57 L143.10 175.90 L143.55 175.95 L144.00 175.79 L144.45 176.28 L144.90 176.35 L145.35 176.12 L145.80 176.35 L146.25 176.29 L146.70 176.37 L147.15 176.48 L147.60 176.20 L148.05 176.63 L148.50 176.56 L148.95 176.71 L149.40 176.56 L149.85 176.79 L150.30 176.86 L150.75 176.83 L151.20 177.19 L151.65 177.26 L152.10 177.27 L152.55 177.70 L153.00 177.76 L153.45 177.71 L153.90 177.51 L154.35 177.58 L154.80 177.73 L155.25 177.71 L155.70 177.78 L156.15 177.68 L156.60 177.85 L157.05 177.60 L157.50 177.53 L157.95 177.52 L158.40 177.61 L158.85 177.54 L159.30 177.90 L159.75 177.81 L160.20 177.56 L160.65 177.64 L161.10 177.78 L161.55 177.59 L162.00 177.71 L162.45 177.65 L162.90 177.85 L163.35 177.89 L163.80 177.81 L164.25 177.93 L164.70 177.84 L165.15 177.63 L165.60 177.87 L166.05 177.99 L166.50 177.98 L166.95 177.94 L167.40 177.72 L167.85 177.88 L168.30 177.91 L168.75 177.99 L169.20 177.66 L169.65 177.87 L170.10 177.95 L170.55 178.01 L171.00 178.02 L171.45 177.98 L171.90 177.79 L172.35 177.99 L172.80 178.03 L173.25 177.87 L173.70 177.96 L174.15 177.69 L174.60 178.01 L175.05 177.86 L175.50 177.78 L175.95 177.91 L176.40 177.70 L176.85 177.89 L177.30 177.98 L177.75 177.92 L178.20 178.06 L178.65 177.92 L179.10 177.98 L179.55 177.75 L180.00 177.77 L180.45 177.89 L180.90 178.06 L181.35 177.98 L181.80 177.99 L182.25 178.00 L182.70 177.99 L183.15 177.76 L183.60 178.03 L184.05 178.06 L184.50 177.74 L184.95 177.87 L185.40 177.72 L185.85 177.93 L186.30 177.75" fill="none" stroke="#222" stroke-width="0.8" stroke-linejoin="round"/>
<path d="M123.30 174.57 L123.75 174.82 L124.20 174.79 L124.65 175.15 L125.10 175.19 L125.55 175.19 L126.00 175.44 L126.45 175.15 L126.90 174.83 L127.35 174.36 L127.80 174.42 L128.25 173.87 L128.70 173.65 L129.15 172.60 L129.60 172.13 L130.05 172.19 L130.50 171.02 L130.95 170.99 L131.40 171.60 L131.85 172.18 L132.30 173.09 L132.75 173.60 L133.20 173.60 L133.65 174.27 L134.10 174.38 L134.55 174.49 L135.00 174.73 L135.45 174.46 L135.90 174.48 L136.35 174.21 L136.80 174.43 L137.25 174.35 L137.70 174.39 L138.15 173.93 L138.60 173.52 L139.05 173.11 L139.50 171.92 L139.95 171.18 L140.40 170.45 L140.85 169.49 L141.30 168.65 L141.75 167.34 L142.20 165.53 L142.65 163.89 L143.10 160.98 L143.55 159.64 L144.00 157.50 L144.45 156.96 L144.90 155.17 L145.35 154.07 L145.80 152.94 L146.25 150.70 L146.70 150.19 L147.15 152.98 L147.60 154.58 L148.05 158.05 L148.50 161.35 L148.95 163.39 L149.40 166.05 L149.85 169.40 L150.30 171.98 L150.75 174.04 L151.20 174.96 L151.65 175.86 L152.10 176.77 L152.55 177.11 L153.00 177.35 L153.45 177.44 L153.90 177.20 L154.35 177.51 L154.80 177.40 L155.25 177.50 L155.70 177.64 L156.15 177.46 L156.60 177.73 L157.05 177.55 L157.50 177.78 L157.95 177.68 L158.40 177.77 L158.85 177.76 L159.30 177.50 L159.75 177.57 L160.20 177.77 L160.65 177.55 L161.10 177.81 L161.55 177.75 L162.00 177.57 L162.45 177.66 L162.90 177.87 L163.35 177.53 L163.80 177.83 L164.25 177.82 L164.70 177.63 L165.15 177.80 L165.60 177.81 L166.05 177.90 L166.50 177.90 L166.95 177.71 L167.40 177.84 L167.85 177.71 L168.30 177.80 L168.75 177.77 L169.20 177.58 L169.65 177.76 L170.10 177.73 L170.55 177.62 L171.00 177.88 L171.45 177.90 L171.90 177.61 L172.35 177.65 L172.80 177.87 L173.25 177.89 L173.70 177.68 L174.15 177.61 L174.60 177.89 L175.05 177.61 L175.50 177.64 L175.95 177.74 L176.40 177.81 L176.85 177.93 L177.30 177.96 L177.75 177.61 L178.20 177.89 L178.65 177.71 L179.10 177.88 L179.55 177.67 L180.00 177.75 L180.45 177.87 L180.90 177.91 L181.35 177.71 L181.80 177.95 L182.25 177.89 L182.70 177.77 L183.15 177.66 L183.60 177.75 L184.05 177.88 L184.50 177.64 L184.95 177.91 L185.40 177.98 L185.85 177.88 L186.30 177.82" fill="none" stroke="#111" stroke-width="1.35" stroke-linejoin="round"/>
<line x1="123.25" y1="150.1" x2="123.25" y2="178.1" stroke="#111" stroke-width="1.5"/>
</g>
<g transform="rotate(-0.6 48.70 241.33)">
<rect x="16.7" y="211.05" width="64.00" height="60.55" fill="#fff" stroke="#2a2a2a" stroke-width="1.0"/>
<line x1="14.399999999999999" y1="271.60" x2="16.7" y2="271.60" stroke="#222" stroke-width="0.9"/>
<line x1="15.2" y1="268.57" x2="16.7" y2="268.57" stroke="#222" stroke-width="0.9"/>
<line x1="15.2" y1="265.55" x2="16.7" y2="265.55" stroke="#222" stroke-width="0.9"/>
<line x1="15.2" y1="262.52" x2="16.7" y2="262.52" stroke="#222" stroke-width="0.9"/>
<line x1="14.399999999999999" y1="259.49" x2="16.7" y2="259.49" stroke="#222" stroke-width="0.9"/>
<line x1="15.2" y1="256.46" x2="16.7" y2="256.46" stroke="#222" stroke-width="0.9"/>
<line x1="15.2" y1="253.44" x2="16.7" y2="253.44" stroke="#222" stroke-width="0.9"/>
<line x1="15.2" y1="250.41" x2="16.7" y2="250.41" stroke="#222" stroke-width="0.9"/>
<line x1="14.399999999999999" y1="247.38" x2="16.7" y2="247.38" stroke="#222" stroke-width="0.9"/>
<line x1="15.2" y1="244.35" x2="16.7" y2="244.35" stroke="#222" stroke-width="0.9"/>
<line x1="15.2" y1="241.33" x2="16.7" y2="241.33" stroke="#222" stroke-width="0.9"/>
<line x1="15.2" y1="238.30" x2="16.7" y2="238.30" stroke="#222" stroke-width="0.9"/>
<line x1="14.399999999999999" y1="235.27" x2="16.7" y2="235.27" stroke="#222" stroke-width="0.9"/>
<line x1="15.2" y1="232.24" x2="16.7" y2="232.24" stroke="#222" stroke-width="0.9"/>
<line x1="15.2" y1="229.22" x2="16.7" y2="229.22" stroke="#222" stroke-width="0.9"/>
<line x1="15.2" y1="226.19" x2="16.7" y2="226.19" stroke="#222" stroke-width="0.9"/>
<line x1="14.399999999999999" y1="223.16" x2="16.7" y2="223.16" stroke="#222" stroke-width="0.9"/>
<line x1="15.2" y1="220.13" x2="16.7" y2="220.13" stroke="#222" stroke-width="0.9"/>
<line x1="15.2" y1="217.11" x2="16.7" y2="217.11" stroke="#222" stroke-width="0.9"/>
<line x1="15.2" y1="214.08" x2="16.7" y2="214.08" stroke="#222" stroke-width="0.9"/>
<line x1="14.399999999999999" y1="211.05" x2="16.7" y2="211.05" stroke="#222" stroke-width="0.9"/>
<line x1="16.70" y1="271.6" x2="16.70" y2="273.8" stroke="#222" stroke-width="0.55"/>
<line x1="21.52" y1="271.6" x2="21.52" y2="272.8" stroke="#222" stroke-width="0.55"/>
<line x1="24.33" y1="271.6" x2="24.33" y2="272.8" stroke="#222" stroke-width="0.55"/>
<line x1="26.33" y1="271.6" x2="26.33" y2="272.8" stroke="#222" stroke-width="0.55"/>
<line x1="27.88" y1="271.6" x2="27.88" y2="272.8" stroke="#222" stroke-width="0.55"/>
<line x1="29.15" y1="271.6" x2="29.15" y2="272.8" stroke="#222" stroke-width="0.55"/>
<line x1="30.22" y1="271.6" x2="30.22" y2="272.8" stroke="#222" stroke-width="0.55"/>
<line x1="31.15" y1="271.6" x2="31.15" y2="272.8" stroke="#222" stroke-width="0.55"/>
<line x1="31.97" y1="271.6" x2="31.97" y2="272.8" stroke="#222" stroke-width="0.55"/>
<line x1="32.70" y1="271.6" x2="32.70" y2="273.8" stroke="#222" stroke-width="0.55"/>
<line x1="37.52" y1="271.6" x2="37.52" y2="272.8" stroke="#222" stroke-width="0.55"/>
<line x1="40.33" y1="271.6" x2="40.33" y2="272.8" stroke="#222" stroke-width="0.55"/>
<line x1="42.33" y1="271.6" x2="42.33" y2="272.8" stroke="#222" stroke-width="0.55"/>
<line x1="43.88" y1="271.6" x2="43.88" y2="272.8" stroke="#222" stroke-width="0.55"/>
<line x1="45.15" y1="271.6" x2="45.15" y2="272.8" stroke="#222" stroke-width="0.55"/>
<line x1="46.22" y1="271.6" x2="46.22" y2="272.8" stroke="#222" stroke-width="0.55"/>
<line x1="47.15" y1="271.6" x2="47.15" y2="272.8" stroke="#222" stroke-width="0.55"/>
<line x1="47.97" y1="271.6" x2="47.97" y2="272.8" stroke="#222" stroke-width="0.55"/>
<line x1="48.70" y1="271.6" x2="48.70" y2="273.8" stroke="#222" stroke-width="0.55"/>
<line x1="53.52" y1="271.6" x2="53.52" y2="272.8" stroke="#222" stroke-width="0.55"/>
<line x1="56.33" y1="271.6" x2="56.33" y2="272.8" stroke="#222" stroke-width="0.55"/>
<line x1="58.33" y1="271.6" x2="58.33" y2="272.8" stroke="#222" stroke-width="0.55"/>
<line x1="59.88" y1="271.6" x2="59.88" y2="272.8" stroke="#222" stroke-width="0.55"/>
<line x1="61.15" y1="271.6" x2="61.15" y2="272.8" stroke="#222" stroke-width="0.55"/>
<line x1="62.22" y1="271.6" x2="62.22" y2="272.8" stroke="#222" stroke-width="0.55"/>
<line x1="63.15" y1="271.6" x2="63.15" y2="272.8" stroke="#222" stroke-width="0.55"/>
<line x1="63.97" y1="271.6" x2="63.97" y2="272.8" stroke="#222" stroke-width="0.55"/>
<line x1="64.70" y1="271.6" x2="64.70" y2="273.8" stroke="#222" stroke-width="0.55"/>
<line x1="69.52" y1="271.6" x2="69.52" y2="272.8" stroke="#222" stroke-width="0.55"/>
<line x1="72.33" y1="271.6" x2="72.33" y2="272.8" stroke="#222" stroke-width="0.55"/>
<line x1="74.33" y1="271.6" x2="74.33" y2="272.8" stroke="#222" stroke-width="0.55"/>
<line x1="75.88" y1="271.6" x2="75.88" y2="272.8" stroke="#222" stroke-width="0.55"/>
<line x1="77.15" y1="271.6" x2="77.15" y2="272.8" stroke="#222" stroke-width="0.55"/>
<line x1="78.22" y1="271.6" x2="78.22" y2="272.8" stroke="#222" stroke-width="0.55"/>
<line x1="79.15" y1="271.6" x2="79.15" y2="272.8" stroke="#222" stroke-width="0.55"/>
<line x1="79.97" y1="271.6" x2="79.97" y2="272.8" stroke="#222" stroke-width="0.55"/>
<line x1="80.7" y1="271.6" x2="80.7" y2="273.6" stroke="#222" stroke-width="0.4"/>
<text transform="translate(13.20,271.80) rotate(-90) scale(0.78,1)" font-size="5.3" font-weight="bold" text-anchor="middle" fill="#111" stroke="#111" stroke-width="0.1">0</text>
<text transform="translate(13.20,260.19) rotate(-90) scale(0.78,1)" font-size="5.3" font-weight="bold" text-anchor="middle" fill="#111" stroke="#111" stroke-width="0.1">40</text>
<text transform="translate(13.20,248.08) rotate(-90) scale(0.78,1)" font-size="5.3" font-weight="bold" text-anchor="middle" fill="#111" stroke="#111" stroke-width="0.1">80</text>
<text transform="translate(13.20,235.97) rotate(-90) scale(0.78,1)" font-size="5.3" font-weight="bold" text-anchor="middle" fill="#111" stroke="#111" stroke-width="0.1">120</text>
<text transform="translate(13.20,223.86) rotate(-90) scale(0.78,1)" font-size="5.3" font-weight="bold" text-anchor="middle" fill="#111" stroke="#111" stroke-width="0.1">160</text>
<text transform="translate(13.20,212.55) rotate(-90) scale(0.78,1)" font-size="5.3" font-weight="bold" text-anchor="middle" fill="#111" stroke="#111" stroke-width="0.1">200</text>
<text transform="translate(6.50,243.13) rotate(-90) scale(0.9,1)" font-size="4.3" font-weight="bold" text-anchor="middle" fill="#111" stroke="#111" stroke-width="0.2">Counts</text>
<text transform="translate(16.70,279.90) scale(0.8,1)" font-size="5.5" font-weight="bold" text-anchor="middle" fill="#111" stroke="#111" stroke-width="0.1">10<tspan dy="-2.6" font-size="3.8">0</tspan></text>
<text transform="translate(32.70,279.90) scale(0.8,1)" font-size="5.5" font-weight="bold" text-anchor="middle" fill="#111" stroke="#111" stroke-width="0.1">10<tspan dy="-2.6" font-size="3.8">1</tspan></text>
<text transform="translate(48.70,279.90) scale(0.8,1)" font-size="5.5" font-weight="bold" text-anchor="middle" fill="#111" stroke="#111" stroke-width="0.1">10<tspan dy="-2.6" font-size="3.8">2</tspan></text>
<text transform="translate(64.70,279.90) scale(0.8,1)" font-size="5.5" font-weight="bold" text-anchor="middle" fill="#111" stroke="#111" stroke-width="0.1">10<tspan dy="-2.6" font-size="3.8">3</tspan></text>
<text transform="translate(80.70,279.90) scale(0.8,1)" font-size="5.5" font-weight="bold" text-anchor="middle" fill="#111" stroke="#111" stroke-width="0.1">10<tspan dy="-2.6" font-size="3.8">4</tspan></text>
<text transform="translate(47.90,284.40) scale(0.95,1)" font-size="4.5" font-weight="bold" text-anchor="middle" fill="#111" stroke="#111" stroke-width="0.12">FL1-H</text>
<text x="45.60" y="219.00" font-size="7.2" font-weight="bold" text-anchor="middle" fill="#111">L591</text>
<path d="M16.90 269.50 L17.35 269.74 L17.80 269.98 L18.25 270.15 L18.70 270.43 L19.15 270.49 L19.60 270.96 L20.05 270.80 L20.50 270.58 L20.95 270.65 L21.40 270.45 L21.85 270.68 L22.30 270.39 L22.75 270.33 L23.20 270.01 L23.65 269.79 L24.10 269.86 L24.55 269.49 L25.00 269.03 L25.45 268.08 L25.90 267.47 L26.35 267.12 L26.80 265.75 L27.25 265.20 L27.70 263.27 L28.15 262.05 L28.60 260.06 L29.05 256.09 L29.50 253.96 L29.95 250.38 L30.40 245.77 L30.85 242.87 L31.30 241.69 L31.75 242.37 L32.20 241.34 L32.65 242.38 L33.10 246.77 L33.55 249.25 L34.00 253.35 L34.45 255.86 L34.90 257.66 L35.35 259.88 L35.80 260.96 L36.25 262.18 L36.70 263.04 L37.15 263.87 L37.60 264.33 L38.05 264.70 L38.50 265.84 L38.95 265.83 L39.40 266.62 L39.85 267.10 L40.30 267.16 L40.75 267.76 L41.20 268.18 L41.65 268.38 L42.10 268.53 L42.55 269.18 L43.00 268.92 L43.45 269.67 L43.90 269.51 L44.35 269.66 L44.80 270.24 L45.25 270.03 L45.70 270.35 L46.15 270.35 L46.60 270.69 L47.05 270.75 L47.50 270.77 L47.95 270.51 L48.40 270.90 L48.85 270.73 L49.30 270.71 L49.75 270.76 L50.20 271.05 L50.65 271.08 L51.10 271.04 L51.55 270.97 L52.00 271.24 L52.45 271.00 L52.90 271.00 L53.35 270.98 L53.80 271.31 L54.25 270.97 L54.70 271.31 L55.15 271.22 L55.60 271.13 L56.05 271.02 L56.50 271.25 L56.95 271.04 L57.40 271.19 L57.85 271.29 L58.30 271.29 L58.75 271.36 L59.20 271.40 L59.65 271.38 L60.10 271.18 L60.55 271.07 L61.00 271.40 L61.45 271.45 L61.90 271.10 L62.35 271.28 L62.80 271.33 L63.25 271.40 L63.70 271.27 L64.15 271.19 L64.60 271.33 L65.05 271.35 L65.50 271.49 L65.95 271.18 L66.40 271.51 L66.85 271.34 L67.30 271.22 L67.75 271.49 L68.20 271.27 L68.65 271.19 L69.10 271.31 L69.55 271.26 L70.00 271.51 L70.45 271.39 L70.90 271.50 L71.35 271.25 L71.80 271.45 L72.25 271.40 L72.70 271.20 L73.15 271.25 L73.60 271.21 L74.05 271.40 L74.50 271.39 L74.95 271.31 L75.40 271.40 L75.85 271.47 L76.30 271.43 L76.75 271.52 L77.20 271.44 L77.65 271.22 L78.10 271.23 L78.55 271.35 L79.00 271.40" fill="none" stroke="#222" stroke-width="0.8" stroke-linejoin="round"/>
<path d="M16.90 269.57 L17.35 269.71 L17.80 269.92 L18.25 270.36 L18.70 270.58 L19.15 270.53 L19.60 270.66 L20.05 270.44 L20.50 270.48 L20.95 270.49 L21.40 270.46 L21.85 270.34 L22.30 270.49 L22.75 270.27 L23.20 270.30 L23.65 269.84 L24.10 270.13 L24.55 269.64 L25.00 269.90 L25.45 269.48 L25.90 269.55 L26.35 269.40 L26.80 269.04 L27.25 269.36 L27.70 269.20 L28.15 268.56 L28.60 268.62 L29.05 268.68 L29.50 267.90 L29.95 267.67 L30.40 267.90 L30.85 267.24 L31.30 266.91 L31.75 266.16 L32.20 265.20 L32.65 264.90 L33.10 263.59 L33.55 263.37 L34.00 262.26 L34.45 260.34 L34.90 259.60 L35.35 258.12 L35.80 255.85 L36.25 253.88 L36.70 252.11 L37.15 250.86 L37.60 249.68 L38.05 250.14 L38.50 251.03 L38.95 251.97 L39.40 252.77 L39.85 253.11 L40.30 253.01 L40.75 253.44 L41.20 254.72 L41.65 255.21 L42.10 255.78 L42.55 256.41 L43.00 256.90 L43.45 258.26 L43.90 259.86 L44.35 259.79 L44.80 261.46 L45.25 262.66 L45.70 264.27 L46.15 265.26 L46.60 266.26 L47.05 266.65 L47.50 267.73 L47.95 267.97 L48.40 268.69 L48.85 268.81 L49.30 269.52 L49.75 269.66 L50.20 269.82 L50.65 269.85 L51.10 270.29 L51.55 270.25 L52.00 270.50 L52.45 270.59 L52.90 270.61 L53.35 270.50 L53.80 270.78 L54.25 270.64 L54.70 271.01 L55.15 270.72 L55.60 270.96 L56.05 271.05 L56.50 270.84 L56.95 270.79 L57.40 271.17 L57.85 271.08 L58.30 270.89 L58.75 271.08 L59.20 271.13 L59.65 271.24 L60.10 271.24 L60.55 271.02 L61.00 270.89 L61.45 270.90 L61.90 271.10 L62.35 271.30 L62.80 271.19 L63.25 271.02 L63.70 271.02 L64.15 271.10 L64.60 271.27 L65.05 271.16 L65.50 271.19 L65.95 271.14 L66.40 271.29 L66.85 271.03 L67.30 271.06 L67.75 271.35 L68.20 271.30 L68.65 271.09 L69.10 271.32 L69.55 271.07 L70.00 271.24 L70.45 271.18 L70.90 271.18 L71.35 271.37 L71.80 271.35 L72.25 271.36 L72.70 271.20 L73.15 271.20 L73.60 271.42 L74.05 271.13 L74.50 271.31 L74.95 271.38 L75.40 271.31 L75.85 271.11 L76.30 271.27 L76.75 271.24 L77.20 271.13 L77.65 271.12 L78.10 271.20 L78.55 271.32 L79.00 271.26" fill="none" stroke="#111" stroke-width="1.35" stroke-linejoin="round"/>
<line x1="17.0" y1="240.60000000000002" x2="17.0" y2="271.6" stroke="#111" stroke-width="1.5"/>
</g>
<g transform="rotate(-0.9 155.05 240.32)">
<rect x="123.05" y="210.1" width="64.00" height="60.45" fill="#fff" stroke="#2a2a2a" stroke-width="1.0"/>
<line x1="120.75" y1="270.55" x2="123.05" y2="270.55" stroke="#222" stroke-width="0.9"/>
<line x1="121.55" y1="267.53" x2="123.05" y2="267.53" stroke="#222" stroke-width="0.9"/>
<line x1="121.55" y1="264.50" x2="123.05" y2="264.50" stroke="#222" stroke-width="0.9"/>
<line x1="121.55" y1="261.48" x2="123.05" y2="261.48" stroke="#222" stroke-width="0.9"/>
<line x1="120.75" y1="258.46" x2="123.05" y2="258.46" stroke="#222" stroke-width="0.9"/>
<line x1="121.55" y1="255.44" x2="123.05" y2="255.44" stroke="#222" stroke-width="0.9"/>
<line x1="121.55" y1="252.42" x2="123.05" y2="252.42" stroke="#222" stroke-width="0.9"/>
<line x1="121.55" y1="249.39" x2="123.05" y2="249.39" stroke="#222" stroke-width="0.9"/>
<line x1="120.75" y1="246.37" x2="123.05" y2="246.37" stroke="#222" stroke-width="0.9"/>
<line x1="121.55" y1="243.35" x2="123.05" y2="243.35" stroke="#222" stroke-width="0.9"/>
<line x1="121.55" y1="240.32" x2="123.05" y2="240.32" stroke="#222" stroke-width="0.9"/>
<line x1="121.55" y1="237.30" x2="123.05" y2="237.30" stroke="#222" stroke-width="0.9"/>
<line x1="120.75" y1="234.28" x2="123.05" y2="234.28" stroke="#222" stroke-width="0.9"/>
<line x1="121.55" y1="231.26" x2="123.05" y2="231.26" stroke="#222" stroke-width="0.9"/>
<line x1="121.55" y1="228.24" x2="123.05" y2="228.24" stroke="#222" stroke-width="0.9"/>
<line x1="121.55" y1="225.21" x2="123.05" y2="225.21" stroke="#222" stroke-width="0.9"/>
<line x1="120.75" y1="222.19" x2="123.05" y2="222.19" stroke="#222" stroke-width="0.9"/>
<line x1="121.55" y1="219.17" x2="123.05" y2="219.17" stroke="#222" stroke-width="0.9"/>
<line x1="121.55" y1="216.14" x2="123.05" y2="216.14" stroke="#222" stroke-width="0.9"/>
<line x1="121.55" y1="213.12" x2="123.05" y2="213.12" stroke="#222" stroke-width="0.9"/>
<line x1="120.75" y1="210.10" x2="123.05" y2="210.10" stroke="#222" stroke-width="0.9"/>
<line x1="123.05" y1="270.55" x2="123.05" y2="272.75" stroke="#222" stroke-width="0.55"/>
<line x1="127.87" y1="270.55" x2="127.87" y2="271.75" stroke="#222" stroke-width="0.55"/>
<line x1="130.68" y1="270.55" x2="130.68" y2="271.75" stroke="#222" stroke-width="0.55"/>
<line x1="132.68" y1="270.55" x2="132.68" y2="271.75" stroke="#222" stroke-width="0.55"/>
<line x1="134.23" y1="270.55" x2="134.23" y2="271.75" stroke="#222" stroke-width="0.55"/>
<line x1="135.50" y1="270.55" x2="135.50" y2="271.75" stroke="#222" stroke-width="0.55"/>
<line x1="136.57" y1="270.55" x2="136.57" y2="271.75" stroke="#222" stroke-width="0.55"/>
<line x1="137.50" y1="270.55" x2="137.50" y2="271.75" stroke="#222" stroke-width="0.55"/>
<line x1="138.32" y1="270.55" x2="138.32" y2="271.75" stroke="#222" stroke-width="0.55"/>
<line x1="139.05" y1="270.55" x2="139.05" y2="272.75" stroke="#222" stroke-width="0.55"/>
<line x1="143.87" y1="270.55" x2="143.87" y2="271.75" stroke="#222" stroke-width="0.55"/>
<line x1="146.68" y1="270.55" x2="146.68" y2="271.75" stroke="#222" stroke-width="0.55"/>
<line x1="148.68" y1="270.55" x2="148.68" y2="271.75" stroke="#222" stroke-width="0.55"/>
<line x1="150.23" y1="270.55" x2="150.23" y2="271.75" stroke="#222" stroke-width="0.55"/>
<line x1="151.50" y1="270.55" x2="151.50" y2="271.75" stroke="#222" stroke-width="0.55"/>
<line x1="152.57" y1="270.55" x2="152.57" y2="271.75" stroke="#222" stroke-width="0.55"/>
<line x1="153.50" y1="270.55" x2="153.50" y2="271.75" stroke="#222" stroke-width="0.55"/>
<line x1="154.32" y1="270.55" x2="154.32" y2="271.75" stroke="#222" stroke-width="0.55"/>
<line x1="155.05" y1="270.55" x2="155.05" y2="272.75" stroke="#222" stroke-width="0.55"/>
<line x1="159.87" y1="270.55" x2="159.87" y2="271.75" stroke="#222" stroke-width="0.55"/>
<line x1="162.68" y1="270.55" x2="162.68" y2="271.75" stroke="#222" stroke-width="0.55"/>
<line x1="164.68" y1="270.55" x2="164.68" y2="271.75" stroke="#222" stroke-width="0.55"/>
<line x1="166.23" y1="270.55" x2="166.23" y2="271.75" stroke="#222" stroke-width="0.55"/>
<line x1="167.50" y1="270.55" x2="167.50" y2="271.75" stroke="#222" stroke-width="0.55"/>
<line x1="168.57" y1="270.55" x2="168.57" y2="271.75" stroke="#222" stroke-width="0.55"/>
<line x1="169.50" y1="270.55" x2="169.50" y2="271.75" stroke="#222" stroke-width="0.55"/>
<line x1="170.32" y1="270.55" x2="170.32" y2="271.75" stroke="#222" stroke-width="0.55"/>
<line x1="171.05" y1="270.55" x2="171.05" y2="272.75" stroke="#222" stroke-width="0.55"/>
<line x1="175.87" y1="270.55" x2="175.87" y2="271.75" stroke="#222" stroke-width="0.55"/>
<line x1="178.68" y1="270.55" x2="178.68" y2="271.75" stroke="#222" stroke-width="0.55"/>
<line x1="180.68" y1="270.55" x2="180.68" y2="271.75" stroke="#222" stroke-width="0.55"/>
<line x1="182.23" y1="270.55" x2="182.23" y2="271.75" stroke="#222" stroke-width="0.55"/>
<line x1="183.50" y1="270.55" x2="183.50" y2="271.75" stroke="#222" stroke-width="0.55"/>
<line x1="184.57" y1="270.55" x2="184.57" y2="271.75" stroke="#222" stroke-width="0.55"/>
<line x1="185.50" y1="270.55" x2="185.50" y2="271.75" stroke="#222" stroke-width="0.55"/>
<line x1="186.32" y1="270.55" x2="186.32" y2="271.75" stroke="#222" stroke-width="0.55"/>
<line x1="187.05" y1="270.55" x2="187.05" y2="272.55" stroke="#222" stroke-width="0.4"/>
<text transform="translate(119.55,270.75) rotate(-90) scale(0.78,1)" font-size="5.3" font-weight="bold" text-anchor="middle" fill="#111" stroke="#111" stroke-width="0.1">0</text>
<text transform="translate(119.55,259.16) rotate(-90) scale(0.78,1)" font-size="5.3" font-weight="bold" text-anchor="middle" fill="#111" stroke="#111" stroke-width="0.1">40</text>
<text transform="translate(119.55,247.07) rotate(-90) scale(0.78,1)" font-size="5.3" font-weight="bold" text-anchor="middle" fill="#111" stroke="#111" stroke-width="0.1">80</text>
<text transform="translate(119.55,234.98) rotate(-90) scale(0.78,1)" font-size="5.3" font-weight="bold" text-anchor="middle" fill="#111" stroke="#111" stroke-width="0.1">120</text>
<text transform="translate(119.55,222.89) rotate(-90) scale(0.78,1)" font-size="5.3" font-weight="bold" text-anchor="middle" fill="#111" stroke="#111" stroke-width="0.1">160</text>
<text transform="translate(119.55,211.60) rotate(-90) scale(0.78,1)" font-size="5.3" font-weight="bold" text-anchor="middle" fill="#111" stroke="#111" stroke-width="0.1">200</text>
<text transform="translate(112.85,242.12) rotate(-90) scale(0.9,1)" font-size="4.3" font-weight="bold" text-anchor="middle" fill="#111" stroke="#111" stroke-width="0.2">Counts</text>
<text transform="translate(123.05,278.85) scale(0.8,1)" font-size="5.5" font-weight="bold" text-anchor="middle" fill="#111" stroke="#111" stroke-width="0.1">10<tspan dy="-2.6" font-size="3.8">0</tspan></text>
<text transform="translate(139.05,278.85) scale(0.8,1)" font-size="5.5" font-weight="bold" text-anchor="middle" fill="#111" stroke="#111" stroke-width="0.1">10<tspan dy="-2.6" font-size="3.8">1</tspan></text>
<text transform="translate(155.05,278.85) scale(0.8,1)" font-size="5.5" font-weight="bold" text-anchor="middle" fill="#111" stroke="#111" stroke-width="0.1">10<tspan dy="-2.6" font-size="3.8">2</tspan></text>
<text transform="translate(171.05,278.85) scale(0.8,1)" font-size="5.5" font-weight="bold" text-anchor="middle" fill="#111" stroke="#111" stroke-width="0.1">10<tspan dy="-2.6" font-size="3.8">3</tspan></text>
<text transform="translate(187.05,278.85) scale(0.8,1)" font-size="5.5" font-weight="bold" text-anchor="middle" fill="#111" stroke="#111" stroke-width="0.1">10<tspan dy="-2.6" font-size="3.8">4</tspan></text>
<text transform="translate(154.25,283.35) scale(0.95,1)" font-size="4.5" font-weight="bold" text-anchor="middle" fill="#111" stroke="#111" stroke-width="0.12">FL1-H</text>
<text x="154.00" y="218.00" font-size="7.2" font-weight="bold" text-anchor="middle" fill="#111">Raji</text>
<path d="M123.50 266.71 L123.95 267.07 L124.40 267.52 L124.85 267.76 L125.30 268.42 L125.75 268.62 L126.20 268.80 L126.65 268.78 L127.10 268.45 L127.55 268.62 L128.00 268.19 L128.45 268.10 L128.90 267.75 L129.35 267.34 L129.80 266.73 L130.25 266.46 L130.70 266.35 L131.15 265.52 L131.60 264.90 L132.05 263.42 L132.50 262.53 L132.95 261.35 L133.40 259.88 L133.85 258.35 L134.30 256.33 L134.75 254.70 L135.20 253.46 L135.65 250.25 L136.10 248.47 L136.55 246.27 L137.00 245.06 L137.45 245.27 L137.90 246.51 L138.35 247.78 L138.80 249.35 L139.25 251.20 L139.70 251.89 L140.15 253.48 L140.60 254.71 L141.05 256.60 L141.50 258.24 L141.95 259.39 L142.40 261.40 L142.85 261.93 L143.30 263.24 L143.75 264.50 L144.20 265.41 L144.65 265.99 L145.10 266.86 L145.55 267.27 L146.00 267.69 L146.45 268.29 L146.90 268.84 L147.35 269.03 L147.80 269.43 L148.25 269.61 L148.70 269.71 L149.15 269.70 L149.60 269.88 L150.05 269.69 L150.50 269.62 L150.95 269.89 L151.40 269.80 L151.85 269.75 L152.30 270.13 L152.75 270.12 L153.20 269.88 L153.65 269.88 L154.10 269.98 L154.55 270.18 L155.00 270.08 L155.45 269.91 L155.90 269.91 L156.35 269.95 L156.80 270.19 L157.25 269.94 L157.70 270.14 L158.15 270.01 L158.60 270.24 L159.05 269.92 L159.50 270.07 L159.95 270.03 L160.40 270.23 L160.85 270.08 L161.30 270.10 L161.75 270.10 L162.20 270.19 L162.65 270.06 L163.10 270.21 L163.55 270.23 L164.00 270.28 L164.45 270.09 L164.90 270.31 L165.35 270.27 L165.80 270.34 L166.25 270.12 L166.70 270.16 L167.15 270.17 L167.60 270.36 L168.05 270.21 L168.50 270.25 L168.95 270.35 L169.40 270.39 L169.85 270.01 L170.30 270.35 L170.75 270.28 L171.20 270.30 L171.65 270.18 L172.10 270.37 L172.55 270.23 L173.00 270.27 L173.45 270.09 L173.90 270.41 L174.35 270.29 L174.80 270.23 L175.25 270.05 L175.70 270.22 L176.15 270.24 L176.60 270.17 L177.05 270.31 L177.50 270.41 L177.95 270.24 L178.40 270.09 L178.85 270.15 L179.30 270.33 L179.75 270.17 L180.20 270.11 L180.65 270.34 L181.10 270.21 L181.55 270.30 L182.00 270.34 L182.45 270.33 L182.90 270.36 L183.35 270.30 L183.80 270.42 L184.25 270.29 L184.70 270.40 L185.15 270.15 L185.60 270.21 L186.05 270.44 L186.50 270.15" fill="none" stroke="#111" stroke-width="1.35" stroke-linejoin="round"/>
<line x1="123.35" y1="238.55" x2="123.35" y2="270.55" stroke="#111" stroke-width="1.5"/>
</g>
<line x1="298.8" y1="25.6" x2="298.8" y2="241.9" stroke="#000" stroke-width="1.05"/>
<line x1="298.3" y1="241.9" x2="512.8" y2="241.9" stroke="#000" stroke-width="1.05"/>
<line x1="298.8" y1="218.8" x2="512.8" y2="218.8" stroke="#000" stroke-width="1.0"/>
<line x1="294.2" y1="218.80" x2="298.8" y2="218.80" stroke="#000" stroke-width="1.05"/>
<text x="291.8" y="222.80" font-size="11.7" font-weight="bold" text-anchor="end">0</text>
<line x1="294.2" y1="180.25" x2="298.8" y2="180.25" stroke="#000" stroke-width="1.05"/>
<text x="291.8" y="184.25" font-size="11.7" font-weight="bold" text-anchor="end">5</text>
<line x1="294.2" y1="141.70" x2="298.8" y2="141.70" stroke="#000" stroke-width="1.05"/>
<text x="291.8" y="145.70" font-size="11.7" font-weight="bold" text-anchor="end">10</text>
<line x1="294.2" y1="103.15" x2="298.8" y2="103.15" stroke="#000" stroke-width="1.05"/>
<text x="291.8" y="107.15" font-size="11.7" font-weight="bold" text-anchor="end">15</text>
<line x1="294.2" y1="64.60" x2="298.8" y2="64.60" stroke="#000" stroke-width="1.05"/>
<text x="291.8" y="68.60" font-size="11.7" font-weight="bold" text-anchor="end">20</text>
<line x1="294.2" y1="26.05" x2="298.8" y2="26.05" stroke="#000" stroke-width="1.05"/>
<text x="291.8" y="30.05" font-size="11.7" font-weight="bold" text-anchor="end">25</text>
<text x="216.4" y="128.6" font-size="12.2" font-weight="bold">% Death</text>
<path d="M329.40000000000003 49.0 V49.9 M326.3 49.0 H332.50000000000006 M326.3 49.9 H332.50000000000006" stroke="#000" stroke-width="0.95" fill="none"/>
<rect x="320.0" y="49.9" width="18.1" height="168.90" fill="#000"/>
<path d="M312.20000000000005 210.8 V226 M309.1 210.8 H315.30000000000007 M309.1 226 H315.30000000000007" stroke="#000" stroke-width="0.95" fill="none"/>
<line x1="320.6" y1="241.9" x2="320.6" y2="246.6" stroke="#000" stroke-width="1.0"/>
<text transform="translate(323.20000000000005,249.9) rotate(-90)" font-size="12.0" font-weight="bold" text-anchor="end">Karpas</text>
<rect x="362.4" y="41.6" width="18.1" height="177.20" fill="#000"/>
<path d="M354.6 216.3 V221 M351.5 216.3 H357.70000000000005 M351.5 221 H357.70000000000005" stroke="#000" stroke-width="0.95" fill="none"/>
<line x1="363" y1="241.9" x2="363" y2="246.6" stroke="#000" stroke-width="1.0"/>
<text transform="translate(365.6,249.9) rotate(-90)" font-size="12.0" font-weight="bold" text-anchor="end">Michel</text>
<path d="M414.3 144.8 V174.8 M411.2 144.8 H417.40000000000003 M411.2 174.8 H417.40000000000003" stroke="#000" stroke-width="0.95" fill="none"/>
<rect x="404.9" y="174.8" width="18.1" height="44.00" fill="#000"/>
<path d="M397.1 213.5 V223.7 M394.0 213.5 H400.20000000000005 M394.0 223.7 H400.20000000000005" stroke="#000" stroke-width="0.95" fill="none"/>
<line x1="405.5" y1="241.9" x2="405.5" y2="246.6" stroke="#000" stroke-width="1.0"/>
<text transform="translate(408.1,249.9) rotate(-90)" font-size="12.0" font-weight="bold" text-anchor="end">KM-H2</text>
<path d="M456.8 199.2 V205.2 M453.7 199.2 H459.90000000000003 M453.7 205.2 H459.90000000000003" stroke="#000" stroke-width="0.95" fill="none"/>
<rect x="447.4" y="205.2" width="18.1" height="13.60" fill="#000"/>
<path d="M439.6 213.5 V223.7 M436.5 213.5 H442.70000000000005 M436.5 223.7 H442.70000000000005" stroke="#000" stroke-width="0.95" fill="none"/>
<line x1="448" y1="241.9" x2="448" y2="246.6" stroke="#000" stroke-width="1.0"/>
<text transform="translate(450.6,249.9) rotate(-90)" font-size="12.0" font-weight="bold" text-anchor="end">L428</text>
<path d="M499.8 153.7 V222.3 M496.7 153.7 H502.90000000000003 M496.7 222.3 H502.90000000000003" stroke="#000" stroke-width="0.95" fill="none"/>
<rect x="490.4" y="187.7" width="18.1" height="31.10" fill="#000"/>
<path d="M482.6 207 V230.6 M479.5 207 H485.70000000000005 M479.5 230.6 H485.70000000000005" stroke="#000" stroke-width="0.95" fill="none"/>
<line x1="491" y1="241.9" x2="491" y2="246.6" stroke="#000" stroke-width="1.0"/>
<text transform="translate(493.6,249.9) rotate(-90)" font-size="12.0" font-weight="bold" text-anchor="end">L591</text>
<line x1="33.8" y1="313.3" x2="33.8" y2="443.6" stroke="#000" stroke-width="0.7"/>
<line x1="33.8" y1="443.6" x2="167.5" y2="443.6" stroke="#000" stroke-width="0.7"/>
<line x1="33.8" y1="438.6" x2="167.5" y2="438.6" stroke="#000" stroke-width="0.6"/>
<line x1="32.3" y1="438.60" x2="33.8" y2="438.60" stroke="#000" stroke-width="0.7"/>
<text x="30.799999999999997" y="440.45" font-size="5.2" font-weight="bold" text-anchor="end" stroke="#000" stroke-width="0.1">0</text>
<line x1="32.3" y1="413.54" x2="33.8" y2="413.54" stroke="#000" stroke-width="0.7"/>
<text x="30.799999999999997" y="415.39" font-size="5.2" font-weight="bold" text-anchor="end" stroke="#000" stroke-width="0.1">10</text>
<line x1="32.3" y1="388.48" x2="33.8" y2="388.48" stroke="#000" stroke-width="0.7"/>
<text x="30.799999999999997" y="390.33" font-size="5.2" font-weight="bold" text-anchor="end" stroke="#000" stroke-width="0.1">20</text>
<line x1="32.3" y1="363.42" x2="33.8" y2="363.42" stroke="#000" stroke-width="0.7"/>
<text x="30.799999999999997" y="365.27" font-size="5.2" font-weight="bold" text-anchor="end" stroke="#000" stroke-width="0.1">30</text>
<line x1="32.3" y1="338.36" x2="33.8" y2="338.36" stroke="#000" stroke-width="0.7"/>
<text x="30.799999999999997" y="340.21" font-size="5.2" font-weight="bold" text-anchor="end" stroke="#000" stroke-width="0.1">40</text>
<line x1="32.3" y1="313.30" x2="33.8" y2="313.30" stroke="#000" stroke-width="0.7"/>
<text x="30.799999999999997" y="315.15" font-size="5.2" font-weight="bold" text-anchor="end" stroke="#000" stroke-width="0.1">50</text>
<text x="0.0" y="375.9" font-size="5.4" font-weight="bold" stroke="#000" stroke-width="0.08">% Death</text>
<rect x="37.5" y="418.7" width="13.7" height="19.90" fill="#fff" stroke="#000" stroke-width="0.7"/>
<path d="M44.300000000000004 408.5 V428.5 M42.800000000000004 408.5 H45.800000000000004 M42.800000000000004 428.5 H45.800000000000004" stroke="#000" stroke-width="0.75" fill="none"/>
<path d="M57.800000000000004 345.3 V351.3 M56.300000000000004 345.3 H59.300000000000004 M56.300000000000004 351.3 H59.300000000000004" stroke="#000" stroke-width="0.75" fill="none"/>
<rect x="51.2" y="351.3" width="13.0" height="87.30" fill="#000" stroke="#000" stroke-width="0.3"/>
<line x1="51.2" y1="443.6" x2="51.2" y2="445.8" stroke="#000" stroke-width="0.7"/>
<text transform="translate(52.7,447.2) rotate(-90)" font-size="5.15" font-weight="bold" text-anchor="end" stroke="#000" stroke-width="0.1">Karpas</text>
<rect x="71.1" y="385.2" width="13.7" height="53.40" fill="#fff" stroke="#000" stroke-width="0.7"/>
<path d="M77.89999999999999 381 V390 M76.39999999999999 381 H79.39999999999999 M76.39999999999999 390 H79.39999999999999" stroke="#000" stroke-width="0.75" fill="none"/>
<path d="M91.39999999999999 335.2 V339 M89.89999999999999 335.2 H92.89999999999999 M89.89999999999999 339 H92.89999999999999" stroke="#000" stroke-width="0.75" fill="none"/>
<rect x="84.8" y="339" width="13.0" height="99.60" fill="#000" stroke="#000" stroke-width="0.3"/>
<line x1="84.8" y1="443.6" x2="84.8" y2="445.8" stroke="#000" stroke-width="0.7"/>
<text transform="translate(86.3,447.2) rotate(-90)" font-size="5.15" font-weight="bold" text-anchor="end" stroke="#000" stroke-width="0.1">Michel</text>
<rect x="104.6" y="432.3" width="13.7" height="6.30" fill="#fff" stroke="#000" stroke-width="0.7"/>
<path d="M111.39999999999999 430 V435 M109.89999999999999 430 H112.89999999999999 M109.89999999999999 435 H112.89999999999999" stroke="#000" stroke-width="0.75" fill="none"/>
<path d="M124.89999999999999 431.5 V433.4 M123.39999999999999 431.5 H126.39999999999999 M123.39999999999999 433.4 H126.39999999999999" stroke="#000" stroke-width="0.75" fill="none"/>
<rect x="118.3" y="433.4" width="13.0" height="5.20" fill="#000" stroke="#000" stroke-width="0.3"/>
<line x1="118.3" y1="443.6" x2="118.3" y2="445.8" stroke="#000" stroke-width="0.7"/>
<text transform="translate(119.8,447.2) rotate(-90)" font-size="5.15" font-weight="bold" text-anchor="end" stroke="#000" stroke-width="0.1">KM-H2</text>
<rect x="138.3" y="428.9" width="13.7" height="9.70" fill="#fff" stroke="#000" stroke-width="0.7"/>
<path d="M145.1 425.5 V433 M143.6 425.5 H146.6 M143.6 433 H146.6" stroke="#000" stroke-width="0.75" fill="none"/>
<path d="M158.6 436 V439.8 M157.1 436 H160.1 M157.1 439.8 H160.1" stroke="#000" stroke-width="0.75" fill="none"/>
<rect x="152.0" y="438.0" width="13.0" height="0.60" fill="#000" stroke="#000" stroke-width="0.3"/>
<line x1="152.0" y1="443.6" x2="152.0" y2="445.8" stroke="#000" stroke-width="0.7"/>
<text transform="translate(153.5,447.2) rotate(-90)" font-size="5.15" font-weight="bold" text-anchor="end" stroke="#000" stroke-width="0.1">L428</text>
<line x1="234.4" y1="313.5" x2="234.4" y2="417.0" stroke="#000" stroke-width="0.7"/>
<line x1="234.4" y1="417.0" x2="343.9" y2="417.0" stroke="#000" stroke-width="0.7"/>
<line x1="232.20000000000002" y1="417.00" x2="234.4" y2="417.00" stroke="#000" stroke-width="0.7"/>
<text x="231.20000000000002" y="419.20" font-size="6.0" font-weight="bold" text-anchor="end">0</text>
<line x1="232.20000000000002" y1="391.10" x2="234.4" y2="391.10" stroke="#000" stroke-width="0.7"/>
<text x="231.20000000000002" y="393.30" font-size="6.0" font-weight="bold" text-anchor="end">20</text>
<line x1="232.20000000000002" y1="365.20" x2="234.4" y2="365.20" stroke="#000" stroke-width="0.7"/>
<text x="231.20000000000002" y="367.40" font-size="6.0" font-weight="bold" text-anchor="end">40</text>
<line x1="232.20000000000002" y1="339.30" x2="234.4" y2="339.30" stroke="#000" stroke-width="0.7"/>
<text x="231.20000000000002" y="341.50" font-size="6.0" font-weight="bold" text-anchor="end">60</text>
<line x1="232.20000000000002" y1="313.40" x2="234.4" y2="313.40" stroke="#000" stroke-width="0.7"/>
<text x="231.20000000000002" y="315.60" font-size="6.0" font-weight="bold" text-anchor="end">80</text>
<line x1="234.40" y1="417.0" x2="234.40" y2="419.2" stroke="#000" stroke-width="0.7"/>
<text transform="translate(236.60,421.0) rotate(-90)" font-size="6.1" font-weight="bold" text-anchor="end">0</text>
<line x1="256.26" y1="417.0" x2="256.26" y2="419.2" stroke="#000" stroke-width="0.7"/>
<text transform="translate(258.46,421.0) rotate(-90)" font-size="6.1" font-weight="bold" text-anchor="end">20</text>
<line x1="278.12" y1="417.0" x2="278.12" y2="419.2" stroke="#000" stroke-width="0.7"/>
<text transform="translate(280.32,421.0) rotate(-90)" font-size="6.1" font-weight="bold" text-anchor="end">40</text>
<line x1="299.98" y1="417.0" x2="299.98" y2="419.2" stroke="#000" stroke-width="0.7"/>
<text transform="translate(302.18,421.0) rotate(-90)" font-size="6.1" font-weight="bold" text-anchor="end">60</text>
<line x1="321.84" y1="417.0" x2="321.84" y2="419.2" stroke="#000" stroke-width="0.7"/>
<text transform="translate(324.04,421.0) rotate(-90)" font-size="6.1" font-weight="bold" text-anchor="end">80</text>
<line x1="343.70" y1="417.0" x2="343.70" y2="419.2" stroke="#000" stroke-width="0.7"/>
<text transform="translate(345.90,421.0) rotate(-90)" font-size="6.1" font-weight="bold" text-anchor="end">100</text>
<text x="191.5" y="366.7" font-size="5.9" font-weight="bold">% Death</text>
<text x="288.2" y="443.4" font-size="5.95" font-weight="bold" text-anchor="middle">minutes after CD30 activation</text>
<path d="M234.40 411.50 L256.26 363.40 L278.12 334.00 L299.98 346.50 L321.84 343.00 L343.70 348.00" fill="none" stroke="#000" stroke-width="0.6"/>
<path d="M234.40 412.00 L256.26 412.00 L278.12 413.00 L299.98 410.40 L321.84 411.60 L343.70 412.70" fill="none" stroke="#000" stroke-width="0.6"/>
<path d="M256.26 351.3 V374.7 M254.66 351.3 H257.86 M254.66 374.7 H257.86" stroke="#000" stroke-width="0.6" fill="none"/>
<path d="M278.12 316.3 V351.3 M276.52 316.3 H279.72 M276.52 351.3 H279.72" stroke="#000" stroke-width="0.6" fill="none"/>
<path d="M299.98 334.0 V358.5 M298.38 334.0 H301.58000000000004 M298.38 358.5 H301.58000000000004" stroke="#000" stroke-width="0.6" fill="none"/>
<path d="M232.40 411.5 L234.40 409.5 L236.40 411.5 L234.40 413.5Z" fill="#000"/>
<path d="M254.26 363.4 L256.26 361.4 L258.26 363.4 L256.26 365.4Z" fill="#000"/>
<path d="M276.12 334 L278.12 332.0 L280.12 334 L278.12 336.0Z" fill="#000"/>
<path d="M297.98 346.5 L299.98 344.5 L301.98 346.5 L299.98 348.5Z" fill="#000"/>
<path d="M319.84 343 L321.84 341.0 L323.84 343 L321.84 345.0Z" fill="#000"/>
<path d="M341.70 348 L343.70 346.0 L345.70 348 L343.70 350.0Z" fill="#000"/>
<circle cx="234.40" cy="412" r="1.65" fill="#fff" stroke="#000" stroke-width="0.6"/>
<circle cx="256.26" cy="412" r="1.65" fill="#fff" stroke="#000" stroke-width="0.6"/>
<circle cx="278.12" cy="413" r="1.65" fill="#fff" stroke="#000" stroke-width="0.6"/>
<circle cx="299.98" cy="410.4" r="1.65" fill="#fff" stroke="#000" stroke-width="0.6"/>
<circle cx="321.84" cy="411.6" r="1.65" fill="#fff" stroke="#000" stroke-width="0.6"/>
<circle cx="343.70" cy="412.7" r="1.65" fill="#fff" stroke="#000" stroke-width="0.6"/>
<defs><pattern id="h" width="3.3" height="3.3" patternUnits="userSpaceOnUse" patternTransform="rotate(47)"><rect width="3.3" height="3.3" fill="#fff"/><rect x="0" y="0" width="3.3" height="1.55" fill="#000"/></pattern></defs>
<line x1="410.8" y1="313.7" x2="410.8" y2="421.2" stroke="#000" stroke-width="0.7"/>
<line x1="410.8" y1="421.2" x2="517" y2="421.2" stroke="#000" stroke-width="0.7"/>
<line x1="410.8" y1="417.2" x2="517" y2="417.2" stroke="#000" stroke-width="0.6"/>
<line x1="408.6" y1="417.20" x2="410.8" y2="417.20" stroke="#000" stroke-width="0.7"/>
<text x="407.2" y="418.90" font-size="5.8" font-weight="bold" text-anchor="end">0</text>
<line x1="408.6" y1="391.30" x2="410.8" y2="391.30" stroke="#000" stroke-width="0.7"/>
<text x="407.2" y="393.00" font-size="5.8" font-weight="bold" text-anchor="end">20</text>
<line x1="408.6" y1="365.40" x2="410.8" y2="365.40" stroke="#000" stroke-width="0.7"/>
<text x="407.2" y="367.10" font-size="5.8" font-weight="bold" text-anchor="end">40</text>
<line x1="408.6" y1="339.50" x2="410.8" y2="339.50" stroke="#000" stroke-width="0.7"/>
<text x="407.2" y="341.20" font-size="5.8" font-weight="bold" text-anchor="end">60</text>
<line x1="408.6" y1="313.60" x2="410.8" y2="313.60" stroke="#000" stroke-width="0.7"/>
<text x="407.2" y="315.30" font-size="5.8" font-weight="bold" text-anchor="end">80</text>
<text x="371.8" y="367.5" font-size="5.6" font-weight="bold">% Death</text>
<rect x="428.4" y="343.4" width="17" height="73.80" fill="url(#h)" stroke="#000" stroke-width="0.7"/>
<path d="M436.9 340.8 V345.7 M435.54999999999995 340.8 H438.25 M435.54999999999995 345.7 H438.25" stroke="#000" stroke-width="0.6" fill="none"/>
<path d="M452.4 406.2 V406.7 M451.04999999999995 406.2 H453.75 M451.04999999999995 406.7 H453.75" stroke="#000" stroke-width="0.6" fill="none"/>
<rect x="445.4" y="406.7" width="14.9" height="10.50" fill="#000"/>
<path d="M420.4 416.9 h3" stroke="#000" stroke-width="1.1"/>
<line x1="437.09999999999997" y1="421.2" x2="437.09999999999997" y2="423.6" stroke="#000" stroke-width="0.7"/>
<text transform="translate(439.2,424.8) rotate(-90)" font-size="6.0" font-weight="bold" text-anchor="end">Karpas</text>
<rect x="481.1" y="333.3" width="17" height="83.90" fill="url(#h)" stroke="#000" stroke-width="0.7"/>
<path d="M489.6 330.3 V337 M488.25 330.3 H490.95000000000005 M488.25 337 H490.95000000000005" stroke="#000" stroke-width="0.6" fill="none"/>
<path d="M505.1 407 V408.6 M503.75 407 H506.45000000000005 M503.75 408.6 H506.45000000000005" stroke="#000" stroke-width="0.6" fill="none"/>
<rect x="498.1" y="408.6" width="14.9" height="8.60" fill="#000"/>
<path d="M473.1 416.9 h3" stroke="#000" stroke-width="1.1"/>
<line x1="489.8" y1="421.2" x2="489.8" y2="423.6" stroke="#000" stroke-width="0.7"/>
<text transform="translate(491.90000000000003,424.8) rotate(-90)" font-size="6.0" font-weight="bold" text-anchor="end">Michel</text>
</svg>
</body></html>
